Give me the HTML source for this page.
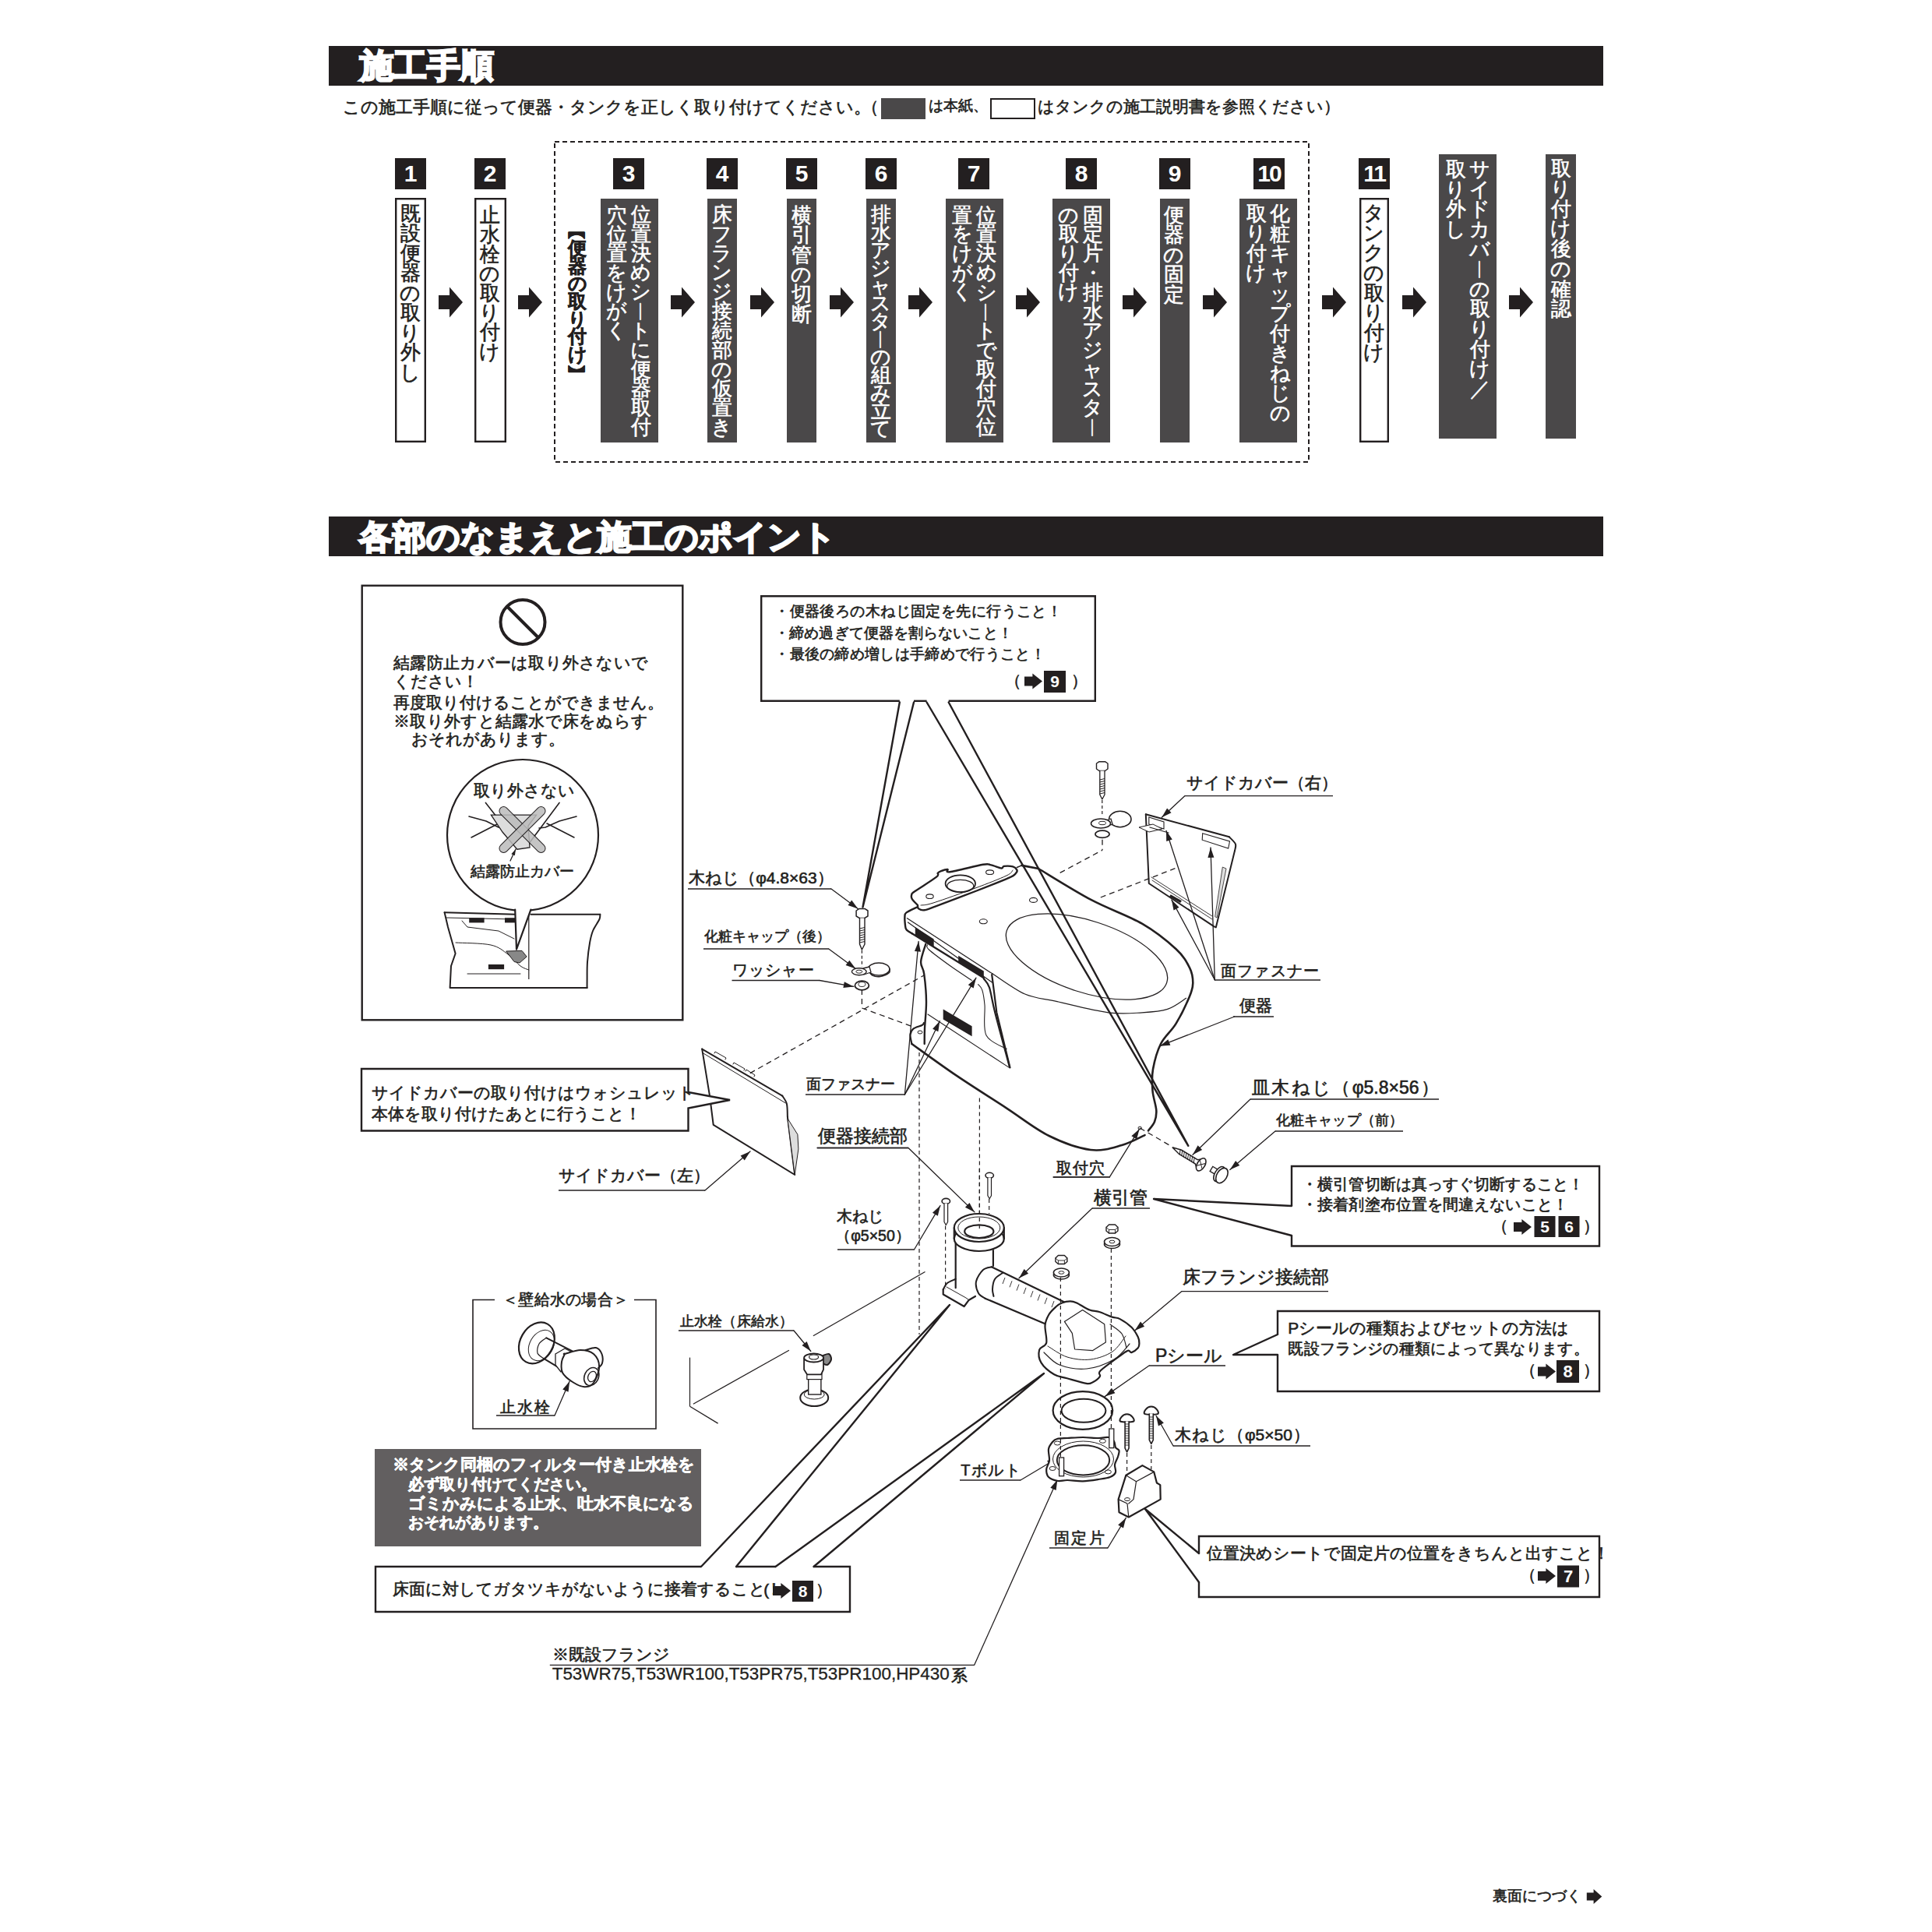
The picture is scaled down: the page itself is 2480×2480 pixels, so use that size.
<!DOCTYPE html><html><head><meta charset="utf-8"><title>施工手順</title><style>
html,body{margin:0;padding:0;background:#fff}
body{width:2480px;height:2480px;position:relative;overflow:hidden;font-family:"Liberation Sans",sans-serif;color:#231f20}
.t{position:absolute;white-space:nowrap;line-height:1;-webkit-text-stroke-width:0.6px}
.j{text-align:justify;text-align-last:justify}
.v{position:absolute;line-break:anywhere;word-break:break-all;text-align:center;-webkit-text-stroke-width:0.6px}
.hd{-webkit-text-stroke-width:2.4px}
.nb{position:absolute;color:#fff;font-weight:bold;text-align:center}
svg{position:absolute;left:0;top:0}
</style></head><body>
<svg width="2480" height="2480" viewBox="0 0 2480 2480">
<path d="M1154.8,901.5 L1107.5,1164.5 L1173.0,901.5" stroke="#231f20" stroke-width="2.4" fill="none" stroke-linejoin="round" stroke-linecap="round"/>
<path d="M1189.6,901.5 L1525.3,1470.8 L1217.7,901.5" stroke="#231f20" stroke-width="2.4" fill="none" stroke-linejoin="round" stroke-linecap="round"/>
<path d="M900.0,2011.0 L1219.0,1675.0 L945.0,2011.0" stroke="#231f20" stroke-width="2.4" fill="none" stroke-linejoin="round" stroke-linecap="round"/>
<path d="M995.5,2011.0 L1340.0,1763.0 L1044.5,2011.0" stroke="#231f20" stroke-width="2.4" fill="none" stroke-linejoin="round" stroke-linecap="round"/>
<path d="M1658.0,1548.0 L1481.0,1539.0 L1658.0,1586.0" stroke="#231f20" stroke-width="2.4" fill="none" stroke-linejoin="round" stroke-linecap="round"/>
<path d="M1640.0,1713.0 L1583.0,1739.0 L1640.0,1739.0" stroke="#231f20" stroke-width="2.4" fill="none" stroke-linejoin="round" stroke-linecap="round"/>
<path d="M1539.0,1994.0 L1470.0,1937.0 L1539.0,2031.0" stroke="#231f20" stroke-width="2.4" fill="none" stroke-linejoin="round" stroke-linecap="round"/>
<path d="M1250.7,2137.3 L1357.3,1899.5" stroke="#231f20" stroke-width="1.3" fill="none" stroke-linejoin="round" stroke-linecap="round"/>
<polygon points="1357.3,1899.5 1355.6323105448519,1912.998844835066 1348.3322359487324,1909.7263976023228" fill="#231f20" stroke="none" stroke-width="0" stroke-linejoin="miter"/>
<path d="M1333.0,1115.0 C1344.3,1121.7 1378.7,1143.4 1400.9,1155.2 C1423.1,1167.0 1447.9,1175.2 1466.0,1185.7 C1484.1,1196.2 1499.4,1208.9 1509.6,1218.3 C1519.8,1227.7 1523.4,1235.0 1527.0,1242.2 C1530.6,1249.4 1531.3,1255.6 1531.3,1261.7 C1531.3,1267.8 1530.6,1270.3 1527.0,1279.0 C1523.4,1287.7 1515.8,1303.7 1509.6,1313.9 C1503.4,1324.1 1494.9,1330.2 1490.0,1340.0 C1485.1,1349.8 1481.8,1362.6 1480.0,1372.6 C1478.2,1382.6 1478.8,1391.2 1479.5,1400.0 C1480.2,1408.8 1483.9,1418.6 1484.3,1425.3 C1484.7,1432.0 1483.7,1435.7 1482.0,1440.0 C1480.3,1444.3 1475.3,1449.5 1474.0,1451.4" stroke="#231f20" stroke-width="2.6" fill="none" stroke-linejoin="round" stroke-linecap="round"/>
<path d="M1469.5,1457.1 C1464.6,1459.2 1451.6,1466.8 1440.0,1470.0 C1428.4,1473.2 1415.6,1478.0 1400.0,1476.0 C1384.4,1474.0 1364.5,1466.9 1346.5,1458.0 C1328.5,1449.1 1312.1,1435.6 1292.2,1422.6 C1272.3,1409.6 1247.3,1394.0 1227.0,1380.2 C1206.7,1366.4 1179.8,1346.7 1170.4,1340.0" stroke="#231f20" stroke-width="2.6" fill="none" stroke-linejoin="round" stroke-linecap="round"/>
<path d="M1170.4,1340.0 C1170.1,1338.0 1168.1,1331.3 1168.5,1328.0 C1168.9,1324.7 1170.1,1322.4 1172.6,1320.4 C1175.1,1318.4 1181.3,1317.2 1183.5,1316.0 C1185.7,1314.8 1185.6,1313.5 1186.0,1313.0" stroke="#231f20" stroke-width="2.2" fill="none" stroke-linejoin="round" stroke-linecap="round"/>
<path d="M1178.0,1164.0 C1175.6,1165.2 1166.3,1169.2 1163.5,1171.4 C1160.7,1173.6 1161.7,1174.4 1161.4,1177.0 C1161.1,1179.6 1161.6,1184.3 1161.9,1187.0 C1162.2,1189.7 1162.0,1191.3 1163.5,1193.2 C1165.0,1195.1 1169.5,1197.5 1170.7,1198.3" stroke="#231f20" stroke-width="2.4" fill="none" stroke-linejoin="round" stroke-linecap="round"/>
<path d="M1170.7,1198.3 L1262.8,1255.3" stroke="#231f20" stroke-width="2.4" fill="none" stroke-linejoin="round" stroke-linecap="round"/>
<path d="M1164.5,1178.7 L1274.2,1250.1" stroke="#231f20" stroke-width="1.2" fill="none" stroke-linejoin="round" stroke-linecap="round"/>
<path d="M1165.5,1183.9 L1274.2,1261.5" stroke="#231f20" stroke-width="1.2" fill="none" stroke-linejoin="round" stroke-linecap="round"/>
<path d="M1274.2,1250.1 C1281.1,1254.4 1301.8,1270.1 1315.6,1276.0 C1329.4,1281.9 1339.2,1281.7 1357.0,1285.7 C1374.8,1289.7 1404.4,1297.5 1422.6,1299.8 C1440.8,1302.1 1453.3,1300.5 1466.0,1299.8 C1478.7,1299.1 1489.3,1298.5 1498.7,1295.4 C1508.1,1292.3 1518.6,1283.7 1522.6,1281.3" stroke="#231f20" stroke-width="1.2" fill="none" stroke-linejoin="round" stroke-linecap="round"/>
<path d="M1273.2,1251.0 L1279.4,1300.0 L1296.5,1370.4" stroke="#231f20" stroke-width="2.2" fill="none" stroke-linejoin="round" stroke-linecap="round"/>
<path d="M1188.3,1211.8 C1187.3,1215.6 1182.4,1228.2 1182.1,1234.6 C1181.8,1241.0 1185.0,1241.6 1186.2,1250.1 C1187.4,1258.6 1188.9,1274.0 1189.0,1285.7 C1189.1,1297.4 1187.4,1311.0 1187.0,1320.0 C1186.6,1329.0 1186.8,1336.7 1186.7,1340.0" stroke="#231f20" stroke-width="2.4" fill="none" stroke-linejoin="round" stroke-linecap="round"/>
<path d="M1190.4,1212.8 C1190.7,1213.8 1187.5,1214.5 1192.4,1219.0 C1197.3,1223.5 1210.8,1233.4 1220.0,1240.0 C1229.2,1246.6 1242.8,1255.3 1247.3,1258.4" stroke="#231f20" stroke-width="1.1" fill="none" stroke-linejoin="round" stroke-linecap="round"/>
<path d="M1262.8,1256.3 C1264.0,1258.2 1267.6,1260.4 1270.0,1267.7 C1272.4,1275.0 1273.0,1283.0 1277.3,1300.0 C1281.6,1317.0 1292.9,1358.3 1296.0,1370.0" stroke="#231f20" stroke-width="2.2" fill="none" stroke-linejoin="round" stroke-linecap="round"/>
<path d="M1255.6,1263.6 C1256.5,1264.8 1259.4,1266.4 1260.8,1270.8 C1262.2,1275.2 1263.1,1280.3 1264.0,1290.0 C1264.9,1299.7 1261.3,1319.6 1266.0,1329.0 C1270.7,1338.4 1287.8,1343.6 1292.2,1346.5" stroke="#231f20" stroke-width="1.1" fill="none" stroke-linejoin="round" stroke-linecap="round"/>
<path d="M1191.0,1302.0 L1295.4,1370.4" stroke="#231f20" stroke-width="1.1" fill="none" stroke-linejoin="round" stroke-linecap="round"/>
<ellipse cx="1181" cy="1325" rx="3" ry="2" fill="none" stroke="#231f20" stroke-width="1"/>
<polygon points="1174.8,1190 1198.7,1205.6 1198.7,1215.4 1174.8,1199.9" fill="#231f20" stroke="none" stroke-width="0" stroke-linejoin="miter"/>
<polygon points="1230.2,1226.8 1262.8,1246.5 1262.8,1255.3 1230.2,1235.1" fill="#231f20" stroke="none" stroke-width="0" stroke-linejoin="miter"/>
<polygon points="1210.7,1295.4 1247.6,1317.2 1247.6,1330.2 1210.7,1308.5" fill="#231f20" stroke="none" stroke-width="0" stroke-linejoin="miter"/>
<path d="M1178.0,1162.0 C1176.8,1160.6 1172.0,1156.0 1170.7,1153.8 C1169.4,1151.6 1169.7,1150.2 1170.2,1148.7 C1170.7,1147.2 1168.5,1148.3 1173.8,1144.5 C1179.1,1140.7 1196.8,1129.9 1201.8,1125.9 C1206.8,1121.9 1202.8,1122.0 1203.8,1120.7 C1204.8,1119.4 1205.9,1118.9 1208.0,1118.1 C1210.1,1117.3 1214.4,1115.8 1216.3,1116.0 C1218.2,1116.2 1211.8,1120.2 1219.4,1119.2 C1227.0,1118.2 1253.0,1111.3 1261.8,1109.8 C1270.6,1108.3 1268.2,1109.6 1272.2,1110.4 C1276.2,1111.2 1282.8,1114.2 1285.6,1114.5 C1288.3,1114.8 1286.3,1112.2 1288.7,1111.9 C1291.1,1111.6 1297.3,1111.6 1300.1,1112.4 C1302.9,1113.2 1304.6,1115.2 1305.3,1116.6 C1306.0,1118.0 1305.9,1119.0 1304.2,1120.7 C1302.5,1122.4 1303.4,1123.1 1294.9,1126.9 C1286.5,1130.7 1269.0,1137.5 1253.5,1143.5 C1238.0,1149.5 1213.0,1159.0 1201.8,1163.1 C1190.6,1167.2 1190.0,1167.8 1186.2,1168.3 C1182.4,1168.8 1180.4,1167.3 1179.0,1166.3 C1177.6,1165.2 1178.2,1162.7 1178.0,1162.0" stroke="#231f20" stroke-width="2.4" fill="none" stroke-linejoin="round" stroke-linecap="round"/>
<path d="M1182.0,1162.0 C1184.7,1161.5 1186.3,1162.7 1198.0,1159.0 C1209.7,1155.3 1236.3,1145.8 1252.0,1140.0 C1267.7,1134.2 1284.0,1127.8 1292.0,1124.0 C1300.0,1120.2 1298.7,1118.2 1300.0,1117.0" stroke="#231f20" stroke-width="1" fill="none" stroke-linejoin="round" stroke-linecap="round"/>
<path d="M1305.3,1113.5 L1311.5,1110.9" stroke="#231f20" stroke-width="1.5" fill="none" stroke-linejoin="round" stroke-linecap="round"/>
<path d="M1311.5,1110.9 L1333.0,1115.0" stroke="#231f20" stroke-width="2.6" fill="none" stroke-linejoin="round" stroke-linecap="round"/>
<ellipse cx="1232.8" cy="1134.2" rx="19.2" ry="10.9" fill="none" stroke="#231f20" stroke-width="1.8"/>
<ellipse cx="1232.8" cy="1137.3" rx="17" ry="8" fill="none" stroke="#231f20" stroke-width="1.2"/>
<ellipse cx="1270.6" cy="1119.7" rx="5" ry="2.8" fill="none" stroke="#231f20" stroke-width="1.1"/>
<ellipse cx="1193.5" cy="1150.7" rx="4.7" ry="2.8" fill="none" stroke="#231f20" stroke-width="1.1"/>
<ellipse cx="1326.5" cy="1155.4" rx="5" ry="3" fill="none" stroke="#231f20" stroke-width="1.1"/>
<ellipse cx="1262.3" cy="1182.8" rx="5" ry="3" fill="none" stroke="#231f20" stroke-width="1.1"/>
<ellipse cx="1395" cy="1228" rx="108" ry="46" fill="none" stroke="#231f20" stroke-width="1.3" transform="rotate(18 1395 1228)"/>
<line x1="1106.4" y1="1270" x2="1106.4" y2="1294" stroke="#231f20" stroke-width="1.3" stroke-dasharray="7,5"/>
<line x1="1106.4" y1="1294" x2="1172" y2="1318" stroke="#231f20" stroke-width="1.3" stroke-dasharray="7,5"/>
<line x1="1180" y1="1351" x2="1180" y2="1713" stroke="#231f20" stroke-width="1.2" stroke-dasharray="5,4"/>
<line x1="1257.4" y1="1409.6" x2="1257.4" y2="1583" stroke="#231f20" stroke-width="1.2" stroke-dasharray="5,4"/>
<line x1="1360.7" y1="1120.4" x2="1415" y2="1091.3" stroke="#231f20" stroke-width="1.3" stroke-dasharray="7,5"/>
<line x1="1415" y1="1077.7" x2="1415" y2="1091.3" stroke="#231f20" stroke-width="1.3" stroke-dasharray="7,5"/>
<line x1="1412.8" y1="1152" x2="1508.4" y2="1114.7" stroke="#231f20" stroke-width="1.3" stroke-dasharray="7,5"/>
<line x1="962.8" y1="1377.6" x2="1186" y2="1252" stroke="#231f20" stroke-width="1.3" stroke-dasharray="7,5"/>
<line x1="1463.2" y1="1448" x2="1502.5" y2="1470.8" stroke="#231f20" stroke-width="1.3" stroke-dasharray="7,5"/>
<ellipse cx="1463.2" cy="1448" rx="2.2" ry="1.8" fill="none" stroke="#231f20" stroke-width="1"/>
<path d="M1161.4,1405.0 L1179.1,1208.5" stroke="#231f20" stroke-width="1.3" fill="none" stroke-linejoin="round" stroke-linecap="round"/>
<polygon points="1179.1,1208.5 1181.9176000802463,1221.806431895433 1173.9498588927172,1221.088726964037" fill="#231f20" stroke="none" stroke-width="0" stroke-linejoin="miter"/>
<path d="M1161.4,1405.0 L1206.3,1310.7" stroke="#231f20" stroke-width="1.3" fill="none" stroke-linejoin="round" stroke-linecap="round"/>
<polygon points="1206.3,1310.7 1204.322859474202,1324.1570024649343 1197.0998337470257,1320.7178311483892" fill="#231f20" stroke="none" stroke-width="0" stroke-linejoin="miter"/>
<path d="M1161.4,1405.0 L1253.0,1255.2" stroke="#231f20" stroke-width="1.3" fill="none" stroke-linejoin="round" stroke-linecap="round"/>
<polygon points="1253,1255.2 1249.6307194338824,1268.3775547225873 1242.805591255324,1264.2041118577276" fill="#231f20" stroke="none" stroke-width="0" stroke-linejoin="miter"/>
<path d="M1067.0,1141.0 L1101.3,1166.4" stroke="#231f20" stroke-width="1.3" fill="none" stroke-linejoin="round" stroke-linecap="round"/>
<polygon points="1101.3,1166.4 1088.4722155281543,1161.8780595377789 1093.233139372317,1155.448937968693" fill="#231f20" stroke="none" stroke-width="0" stroke-linejoin="miter"/>
<path d="M1063.7,1218.0 L1098.4,1243.6" stroke="#231f20" stroke-width="1.3" fill="none" stroke-linejoin="round" stroke-linecap="round"/>
<polygon points="1098.4,1243.6 1085.5641281427709,1239.1010674971951 1090.3135166818145,1232.6634197509136" fill="#231f20" stroke="none" stroke-width="0" stroke-linejoin="miter"/>
<path d="M1052.0,1258.5 L1095.9,1266.4" stroke="#231f20" stroke-width="1.3" fill="none" stroke-linejoin="round" stroke-linecap="round"/>
<polygon points="1095.9,1266.4 1082.3970769032073,1268.0343401855491 1083.8139534426684,1260.160811061203" fill="#231f20" stroke="none" stroke-width="0" stroke-linejoin="miter"/>
<path d="M1584.5,1305.0 L1488.8,1342.7" stroke="#231f20" stroke-width="1.3" fill="none" stroke-linejoin="round" stroke-linecap="round"/>
<polygon points="1488.8,1342.7 1499.429211033092,1334.2135476897595 1502.3614071801521,1341.656814832296" fill="#231f20" stroke="none" stroke-width="0" stroke-linejoin="miter"/>
<path d="M1605.0,1411.0 L1531.0,1482.2" stroke="#231f20" stroke-width="1.3" fill="none" stroke-linejoin="round" stroke-linecap="round"/>
<polygon points="1531,1482.2 1537.5945413673344,1470.3041173444542 1543.1412790561021,1476.0689851670502" fill="#231f20" stroke="none" stroke-width="0" stroke-linejoin="miter"/>
<path d="M1637.0,1452.0 L1578.8,1501.5" stroke="#231f20" stroke-width="1.3" fill="none" stroke-linejoin="round" stroke-linecap="round"/>
<polygon points="1578.8,1501.5 1586.111186401754,1490.0306254137897 1591.2941971699147,1496.124589589688" fill="#231f20" stroke="none" stroke-width="0" stroke-linejoin="miter"/>
<path d="M1352.0,1511.0 L1424.5,1510.7 L1462.6,1449.2" stroke="#231f20" stroke-width="1.3" fill="none" stroke-linejoin="round" stroke-linecap="round"/>
<polygon points="1462.6,1449.2 1459.154032098823,1462.357708965624 1452.3533252902437,1458.14458816226" fill="#231f20" stroke="none" stroke-width="0" stroke-linejoin="miter"/>
<path d="M1521.0,1021.6 L1491.3,1049.2" stroke="#231f20" stroke-width="1.3" fill="none" stroke-linejoin="round" stroke-linecap="round"/>
<polygon points="1491.3,1049.2 1498.09994927599,1037.4203272607444 1503.5458281303193,1043.2805664626856" fill="#231f20" stroke="none" stroke-width="0" stroke-linejoin="miter"/>
<path d="M1559.3,1257.8 L1497.0,1066.3" stroke="#231f20" stroke-width="1.3" fill="none" stroke-linejoin="round" stroke-linecap="round"/>
<polygon points="1497,1066.3 1504.8255391807957,1077.424789280244 1497.2179968081964,1079.899723430703" fill="#231f20" stroke="none" stroke-width="0" stroke-linejoin="miter"/>
<path d="M1559.3,1257.8 L1554.0,1088.0" stroke="#231f20" stroke-width="1.3" fill="none" stroke-linejoin="round" stroke-linecap="round"/>
<polygon points="1554,1088 1558.403626871964,1100.8688799191118 1550.4075210801236,1101.1184639043695" fill="#231f20" stroke="none" stroke-width="0" stroke-linejoin="miter"/>
<path d="M1559.3,1257.8 L1503.9,1155.1" stroke="#231f20" stroke-width="1.3" fill="none" stroke-linejoin="round" stroke-linecap="round"/>
<polygon points="1503.9,1155.1 1513.5923850063693,1164.6424144160849 1506.551480036225,1168.4405267368832" fill="#231f20" stroke="none" stroke-width="0" stroke-linejoin="miter"/>
<path d="M905.0,1528.0 L963.0,1478.0" stroke="#231f20" stroke-width="1.3" fill="none" stroke-linejoin="round" stroke-linecap="round"/>
<polygon points="963,1478 955.7654289874703,1489.5178549333052 950.5419120109146,1483.4585752405007" fill="#231f20" stroke="none" stroke-width="0" stroke-linejoin="miter"/>
<path d="M1049.0,1473.5 L1166.0,1473.5 L1251.0,1555.9" stroke="#231f20" stroke-width="1.3" fill="none" stroke-linejoin="round" stroke-linecap="round"/>
<polygon points="1251,1555.9 1238.8818033996313,1549.723487136352 1244.450125718719,1543.9794653266135" fill="#231f20" stroke="none" stroke-width="0" stroke-linejoin="miter"/>
<path d="M1173.5,1604.0 L1207.0,1547.6" stroke="#231f20" stroke-width="1.3" fill="none" stroke-linejoin="round" stroke-linecap="round"/>
<polygon points="1207,1547.6 1203.8002491115296,1560.8197425940043 1196.9220804556087,1556.7343055377391" fill="#231f20" stroke="none" stroke-width="0" stroke-linejoin="miter"/>
<path d="M1402.0,1551.0 L1308.0,1640.8" stroke="#231f20" stroke-width="1.3" fill="none" stroke-linejoin="round" stroke-linecap="round"/>
<polygon points="1308,1640.8 1314.6369152225902,1628.9277063577356 1320.1630625289285,1634.7123148966643" fill="#231f20" stroke="none" stroke-width="0" stroke-linejoin="miter"/>
<path d="M1517.0,1657.6 L1456.6,1708.0" stroke="#231f20" stroke-width="1.3" fill="none" stroke-linejoin="round" stroke-linecap="round"/>
<polygon points="1456.6,1708 1464.0187186602868,1696.5998853760364 1469.144193923871,1702.7423200173155" fill="#231f20" stroke="none" stroke-width="0" stroke-linejoin="miter"/>
<path d="M1475.0,1753.0 L1418.5,1792.4" stroke="#231f20" stroke-width="1.3" fill="none" stroke-linejoin="round" stroke-linecap="round"/>
<polygon points="1418.5,1792.4 1426.8752982022847,1781.6829864223841 1431.451297497414,1788.2450158684455" fill="#231f20" stroke="none" stroke-width="0" stroke-linejoin="miter"/>
<path d="M1310.0,1900.0 L1357.3,1871.8" stroke="#231f20" stroke-width="1.3" fill="none" stroke-linejoin="round" stroke-linecap="round"/>
<polygon points="1357.3,1871.8 1348.1822502450823,1881.8929004456943 1344.085527789975,1875.0214475334044" fill="#231f20" stroke="none" stroke-width="0" stroke-linejoin="miter"/>
<path d="M1422.0,1987.0 L1445.3,1948.4" stroke="#231f20" stroke-width="1.3" fill="none" stroke-linejoin="round" stroke-linecap="round"/>
<polygon points="1445.3,1948.4 1442.0063777595294,1961.5966682362284 1435.1574178412986,1957.4624514980217" fill="#231f20" stroke="none" stroke-width="0" stroke-linejoin="miter"/>
<path d="M1506.0,1856.0 L1484.0,1817.3" stroke="#231f20" stroke-width="1.3" fill="none" stroke-linejoin="round" stroke-linecap="round"/>
<polygon points="1484,1817.3 1493.9020183524383,1826.6247001317993 1486.947243211978,1830.5783190746965" fill="#231f20" stroke="none" stroke-width="0" stroke-linejoin="miter"/>
<path d="M1019.0,1708.0 L1040.8,1734.5" stroke="#231f20" stroke-width="1.3" fill="none" stroke-linejoin="round" stroke-linecap="round"/>
<polygon points="1040.8,1734.5 1029.452052094591,1727.0017283100622 1035.6301850066268,1721.9193397258216" fill="#231f20" stroke="none" stroke-width="0" stroke-linejoin="miter"/>
<path d="M712.0,1817.0 L731.1,1773.2" stroke="#231f20" stroke-width="1.3" fill="none" stroke-linejoin="round" stroke-linecap="round"/>
<polygon points="731.1,1773.2 729.5701789099337,1786.7151636110107 722.237083014458,1783.517398049285" fill="#231f20" stroke="none" stroke-width="0" stroke-linejoin="miter"/>
<path d="M1099.1,1169.0 L1103.0,1166.4 L1110.0,1166.4 L1114.0,1169.0 L1114.0,1176.0 L1110.0,1178.4 L1103.0,1178.4 L1099.1,1176.0 L1099.1,1169.0" stroke="#231f20" stroke-width="1.5" fill="#fff" stroke-linejoin="round" stroke-linecap="round"/>
<path d="M1103.5,1178.4 L1103.5,1212.0 L1106.4,1219.0 L1110.0,1212.0 L1110.0,1178.4" stroke="#231f20" stroke-width="1.4" fill="#fff" stroke-linejoin="round" stroke-linecap="round"/>
<line x1="1103.5" y1="1192" x2="1110" y2="1190.5" stroke="#231f20" stroke-width="1"/>
<line x1="1103.5" y1="1195" x2="1110" y2="1193.5" stroke="#231f20" stroke-width="1"/>
<line x1="1103.5" y1="1198" x2="1110" y2="1196.5" stroke="#231f20" stroke-width="1"/>
<line x1="1103.5" y1="1201" x2="1110" y2="1199.5" stroke="#231f20" stroke-width="1"/>
<line x1="1103.5" y1="1204" x2="1110" y2="1202.5" stroke="#231f20" stroke-width="1"/>
<line x1="1103.5" y1="1207" x2="1110" y2="1205.5" stroke="#231f20" stroke-width="1"/>
<line x1="1103.5" y1="1210" x2="1110" y2="1208.5" stroke="#231f20" stroke-width="1"/>
<line x1="1106.4" y1="1219.7" x2="1106.4" y2="1241" stroke="#231f20" stroke-width="1.2" stroke-dasharray="4,3"/>
<ellipse cx="1128.1" cy="1244" rx="13.8" ry="8" fill="#fff" stroke="#231f20" stroke-width="1.6"/>
<path d="M1114.3,1245.0 C1115.2,1246.2 1117.4,1250.6 1120.0,1252.0 C1122.6,1253.4 1126.5,1254.0 1130.0,1253.5 C1133.5,1253.0 1139.0,1250.6 1141.0,1249.0 C1143.0,1247.4 1141.8,1244.8 1142.0,1244.0" stroke="#231f20" stroke-width="1.6" fill="none" stroke-linejoin="round" stroke-linecap="round"/>
<path d="M1108.0,1243.0 L1116.0,1241.0 L1118.0,1248.0 L1109.0,1251.0" stroke="#231f20" stroke-width="1.3" fill="#fff" stroke-linejoin="round" stroke-linecap="round"/>
<ellipse cx="1102.8" cy="1247.2" rx="9.4" ry="4.5" fill="#fff" stroke="#231f20" stroke-width="1.4"/>
<ellipse cx="1102.8" cy="1247.2" rx="4" ry="2" fill="none" stroke="#231f20" stroke-width="1"/>
<ellipse cx="1106.4" cy="1265" rx="9" ry="5.8" fill="#fff" stroke="#231f20" stroke-width="1.8"/>
<ellipse cx="1106.4" cy="1263.5" rx="4.5" ry="3" fill="none" stroke="#231f20" stroke-width="1"/>
<path d="M1407.5,980.0 L1411.0,977.7 L1418.5,977.7 L1422.0,980.0 L1422.0,987.0 L1418.5,989.5 L1411.0,989.5 L1407.5,987.0 L1407.5,980.0" stroke="#231f20" stroke-width="1.4" fill="#fff" stroke-linejoin="round" stroke-linecap="round"/>
<path d="M1411.8,989.5 L1411.8,1020.0 L1414.8,1026.0 L1418.0,1020.0 L1418.0,989.5" stroke="#231f20" stroke-width="1.3" fill="#fff" stroke-linejoin="round" stroke-linecap="round"/>
<line x1="1411.8" y1="1001" x2="1418" y2="999.5" stroke="#231f20" stroke-width="1"/>
<line x1="1411.8" y1="1004" x2="1418" y2="1002.5" stroke="#231f20" stroke-width="1"/>
<line x1="1411.8" y1="1007" x2="1418" y2="1005.5" stroke="#231f20" stroke-width="1"/>
<line x1="1411.8" y1="1010" x2="1418" y2="1008.5" stroke="#231f20" stroke-width="1"/>
<line x1="1411.8" y1="1013" x2="1418" y2="1011.5" stroke="#231f20" stroke-width="1"/>
<line x1="1411.8" y1="1016" x2="1418" y2="1014.5" stroke="#231f20" stroke-width="1"/>
<line x1="1411.8" y1="1019" x2="1418" y2="1017.5" stroke="#231f20" stroke-width="1"/>
<line x1="1414.8" y1="1027" x2="1414.8" y2="1048" stroke="#231f20" stroke-width="1.2" stroke-dasharray="4,3"/>
<ellipse cx="1437.8" cy="1051.5" rx="14.2" ry="10.2" fill="#fff" stroke="#231f20" stroke-width="1.6"/>
<path d="M1420.0,1053.0 L1426.0,1051.0 L1428.0,1058.0 L1421.0,1060.0" stroke="#231f20" stroke-width="1.3" fill="#fff" stroke-linejoin="round" stroke-linecap="round"/>
<ellipse cx="1413" cy="1057" rx="12.5" ry="6" fill="#fff" stroke="#231f20" stroke-width="1.5"/>
<ellipse cx="1415" cy="1056.5" rx="4.5" ry="2.2" fill="none" stroke="#231f20" stroke-width="1"/>
<ellipse cx="1415" cy="1070.8" rx="9.1" ry="4.6" fill="#fff" stroke="#231f20" stroke-width="1.8"/>
<path d="M1470.8,1045.2 L1577.9,1074.3" stroke="#231f20" stroke-width="2" fill="none" stroke-linejoin="round" stroke-linecap="round"/>
<path d="M1577.9,1074.3 C1579.2,1075.8 1584.7,1080.5 1585.9,1083.4 C1587.1,1086.4 1585.2,1090.6 1585.0,1092.0" stroke="#231f20" stroke-width="2" fill="none" stroke-linejoin="round" stroke-linecap="round"/>
<path d="M1585.0,1092.0 L1560.8,1190.4 L1558.5,1189.3 L1474.8,1134.0 L1470.8,1045.2" stroke="#231f20" stroke-width="2" fill="none" stroke-linejoin="round" stroke-linecap="round"/>
<polygon points="1474.8,1049 1494,1055 1494,1064 1474.8,1058" fill="none" stroke="#231f20" stroke-width="1.1" stroke-linejoin="miter"/>
<polygon points="1543.7,1069.7 1578.5,1080 1576.7,1089 1543.2,1078.2" fill="none" stroke="#231f20" stroke-width="1.1" stroke-linejoin="miter"/>
<polygon points="1569.3,1113 1574,1115 1562,1178 1559.7,1176.7" fill="#ddd" stroke="#231f20" stroke-width="0.8" stroke-linejoin="miter"/>
<polygon points="1462,1062 1480,1058 1492,1064 1475,1068" fill="#fff" stroke="#231f20" stroke-width="1" stroke-linejoin="miter"/>
<path d="M1476.0,1062.0 L1500.0,1069.0" stroke="#231f20" stroke-width="1.3" fill="none" stroke-linejoin="round" stroke-linecap="round"/>
<polygon points="1502.7,1148.3 1517,1156.2 1515,1159 1501,1151" fill="#231f20" stroke="none" stroke-width="1" stroke-linejoin="miter"/>
<path d="M1479.0,1130.0 L1556.0,1180.0" stroke="#231f20" stroke-width="0.9" fill="none" stroke-linejoin="round" stroke-linecap="round"/>
<path d="M1478.0,1126.0 L1556.0,1176.0" stroke="#231f20" stroke-width="0.9" fill="none" stroke-linejoin="round" stroke-linecap="round"/>
<path d="M901.2,1346.6 L1004.2,1406.6" stroke="#231f20" stroke-width="2" fill="none" stroke-linejoin="round" stroke-linecap="round"/>
<path d="M1004.2,1406.6 C1005.2,1408.3 1008.8,1412.4 1009.9,1416.9 C1011.0,1421.4 1010.7,1430.7 1010.9,1433.5" stroke="#231f20" stroke-width="2" fill="none" stroke-linejoin="round" stroke-linecap="round"/>
<path d="M1010.9,1433.5 L1020.2,1508.0 L915.7,1443.8 L911.0,1406.6 L901.2,1346.6" stroke="#231f20" stroke-width="2" fill="none" stroke-linejoin="round" stroke-linecap="round"/>
<path d="M903.3,1352.3 L1008.3,1415.9" stroke="#231f20" stroke-width="1" fill="none" stroke-linejoin="round" stroke-linecap="round"/>
<polygon points="1010.9,1435.6 1023.9,1456.3 1024.9,1474.9 1020.2,1508" fill="#ddd" stroke="#231f20" stroke-width="1" stroke-linejoin="miter"/>
<path d="M917.0,1352.0 L918.0,1350.0 L932.0,1358.0 L931.0,1360.0" stroke="#231f20" stroke-width="1" fill="none" stroke-linejoin="round" stroke-linecap="round"/>
<path d="M941.0,1366.0 L942.0,1364.0 L956.0,1372.0 L955.0,1374.0" stroke="#231f20" stroke-width="1" fill="none" stroke-linejoin="round" stroke-linecap="round"/>
<path d="M957.0,1375.0 L958.0,1373.0 L969.0,1380.0 L968.0,1382.0" stroke="#231f20" stroke-width="1" fill="none" stroke-linejoin="round" stroke-linecap="round"/>
<path d="M1210.7,1655.3 C1211.6,1653.9 1213.2,1649.2 1215.9,1647.0 C1218.6,1644.8 1224.9,1642.7 1226.7,1641.8" stroke="#231f20" stroke-width="2" fill="none" stroke-linejoin="round" stroke-linecap="round"/>
<path d="M1210.7,1655.3 L1210.7,1661.5 L1237.6,1677.0 L1243.8,1668.7 L1252.0,1664.0" stroke="#231f20" stroke-width="2.2" fill="none" stroke-linejoin="round" stroke-linecap="round"/>
<path d="M1215.0,1652.0 L1240.0,1666.0 L1243.8,1668.7" stroke="#231f20" stroke-width="1" fill="none" stroke-linejoin="round" stroke-linecap="round"/>
<path d="M1226.7,1596.3 L1226.7,1653.2" stroke="#231f20" stroke-width="2.2" fill="none" stroke-linejoin="round" stroke-linecap="round"/>
<path d="M1274.9,1605.0 L1274.9,1625.0" stroke="#231f20" stroke-width="2.2" fill="none" stroke-linejoin="round" stroke-linecap="round"/>
<ellipse cx="1256.8" cy="1590" rx="32" ry="16" fill="#fff" stroke="#231f20" stroke-width="2.2"/>
<path d="M1224.8,1576.0 L1224.8,1590.0" stroke="#231f20" stroke-width="2.2" fill="none" stroke-linejoin="round" stroke-linecap="round"/>
<path d="M1288.8,1576.0 L1288.8,1590.0" stroke="#231f20" stroke-width="2.2" fill="none" stroke-linejoin="round" stroke-linecap="round"/>
<ellipse cx="1256.8" cy="1576" rx="32" ry="18" fill="#fff" stroke="#231f20" stroke-width="2.2"/>
<ellipse cx="1256.8" cy="1576" rx="27" ry="14" fill="none" stroke="#231f20" stroke-width="1"/>
<ellipse cx="1256.8" cy="1580.7" rx="18.6" ry="8.3" fill="#fff" stroke="#231f20" stroke-width="2.2"/>
<line x1="1257.3" y1="1500" x2="1257.3" y2="1578.7" stroke="#231f20" stroke-width="1.2" stroke-dasharray="5,4"/>
<path d="M1272.8,1626.3 L1366.4,1671.5" stroke="#231f20" stroke-width="2.2" fill="none" stroke-linejoin="round" stroke-linecap="round"/>
<path d="M1264.5,1666.7 L1343.2,1700.0 L1352.0,1704.0" stroke="#231f20" stroke-width="2.2" fill="none" stroke-linejoin="round" stroke-linecap="round"/>
<path d="M1272.8,1626.3 C1271.0,1626.9 1265.3,1626.9 1262.0,1630.0 C1258.7,1633.1 1254.0,1640.0 1253.0,1645.0 C1252.0,1650.0 1254.1,1656.4 1256.0,1660.0 C1257.9,1663.6 1263.1,1665.6 1264.5,1666.7" stroke="#231f20" stroke-width="2" fill="none" stroke-linejoin="round" stroke-linecap="round"/>
<path d="M1287.0,1634.0 C1285.3,1635.3 1279.2,1638.5 1277.0,1642.0 C1274.8,1645.5 1274.2,1651.3 1274.0,1655.0 C1273.8,1658.7 1275.2,1662.5 1275.5,1664.0" stroke="#231f20" stroke-width="2" fill="none" stroke-linejoin="round" stroke-linecap="round"/>
<line x1="1290" y1="1640.0" x2="1287" y2="1648.0" stroke="#231f20" stroke-width="0.9"/>
<line x1="1299" y1="1644.3" x2="1296" y2="1652.3" stroke="#231f20" stroke-width="0.9"/>
<line x1="1308" y1="1648.6" x2="1305" y2="1656.6" stroke="#231f20" stroke-width="0.9"/>
<line x1="1317" y1="1652.9" x2="1314" y2="1660.9" stroke="#231f20" stroke-width="0.9"/>
<line x1="1326" y1="1657.2" x2="1323" y2="1665.2" stroke="#231f20" stroke-width="0.9"/>
<line x1="1335" y1="1661.5" x2="1332" y2="1669.5" stroke="#231f20" stroke-width="0.9"/>
<line x1="1344" y1="1665.8" x2="1341" y2="1673.8" stroke="#231f20" stroke-width="0.9"/>
<line x1="1353" y1="1670.1" x2="1350" y2="1678.1" stroke="#231f20" stroke-width="0.9"/>
<line x1="1362" y1="1674.4" x2="1359" y2="1682.4" stroke="#231f20" stroke-width="0.9"/>
<ellipse cx="1214.3" cy="1541.9" rx="5.2" ry="3.5" fill="#fff" stroke="#231f20" stroke-width="1.6"/>
<path d="M1212.0,1544.9 L1212.0,1568.5 L1214.3,1572.5 L1216.6,1568.5 L1216.6,1544.9" stroke="#231f20" stroke-width="1.2" fill="#fff" stroke-linejoin="round" stroke-linecap="round"/>
<ellipse cx="1270.2" cy="1508.8" rx="5.2" ry="3.5" fill="#fff" stroke="#231f20" stroke-width="1.6"/>
<path d="M1267.9,1511.8 L1267.9,1534.8 L1270.2,1538.8 L1272.5,1534.8 L1272.5,1511.8" stroke="#231f20" stroke-width="1.2" fill="#fff" stroke-linejoin="round" stroke-linecap="round"/>
<line x1="1213.6" y1="1573.5" x2="1213.6" y2="1655" stroke="#231f20" stroke-width="1.2" stroke-dasharray="5,4"/>
<line x1="1269.7" y1="1539" x2="1269.7" y2="1558" stroke="#231f20" stroke-width="1.2" stroke-dasharray="5,4"/>
<path d="M1354.9,1615.0 L1358.4,1611.5 L1366.4,1611.5 L1369.9,1615.0 L1369.9,1619.5 L1366.4,1622.5 L1358.4,1622.5 L1354.9,1619.5 L1354.9,1615.0" stroke="#231f20" stroke-width="1.4" fill="#fff" stroke-linejoin="round" stroke-linecap="round"/>
<path d="M1354.9,1615.0 L1358.4,1618.0 L1366.4,1618.0 L1369.9,1615.0" stroke="#231f20" stroke-width="0.9" fill="none" stroke-linejoin="round" stroke-linecap="round"/>
<path d="M1358.4,1618.0 L1358.4,1622.5" stroke="#231f20" stroke-width="0.9" fill="none" stroke-linejoin="round" stroke-linecap="round"/>
<path d="M1366.4,1618.0 L1366.4,1622.5" stroke="#231f20" stroke-width="0.9" fill="none" stroke-linejoin="round" stroke-linecap="round"/>
<ellipse cx="1362.4" cy="1636.5" rx="10" ry="5.5" fill="#fff" stroke="#231f20" stroke-width="1.6"/>
<ellipse cx="1362.4" cy="1633.5" rx="10" ry="5.5" fill="#fff" stroke="#231f20" stroke-width="1.6"/>
<ellipse cx="1362.4" cy="1633.5" rx="3.5" ry="1.8" fill="none" stroke="#231f20" stroke-width="1"/>
<path d="M1420.0,1575.5 L1423.5,1572.0 L1431.5,1572.0 L1435.0,1575.5 L1435.0,1580.0 L1431.5,1583.0 L1423.5,1583.0 L1420.0,1580.0 L1420.0,1575.5" stroke="#231f20" stroke-width="1.4" fill="#fff" stroke-linejoin="round" stroke-linecap="round"/>
<path d="M1420.0,1575.5 L1423.5,1578.5 L1431.5,1578.5 L1435.0,1575.5" stroke="#231f20" stroke-width="0.9" fill="none" stroke-linejoin="round" stroke-linecap="round"/>
<path d="M1423.5,1578.5 L1423.5,1583.0" stroke="#231f20" stroke-width="0.9" fill="none" stroke-linejoin="round" stroke-linecap="round"/>
<path d="M1431.5,1578.5 L1431.5,1583.0" stroke="#231f20" stroke-width="0.9" fill="none" stroke-linejoin="round" stroke-linecap="round"/>
<ellipse cx="1427.5" cy="1597.0" rx="10" ry="5.5" fill="#fff" stroke="#231f20" stroke-width="1.6"/>
<ellipse cx="1427.5" cy="1594.0" rx="10" ry="5.5" fill="#fff" stroke="#231f20" stroke-width="1.6"/>
<ellipse cx="1427.5" cy="1594.0" rx="3.5" ry="1.8" fill="none" stroke="#231f20" stroke-width="1"/>
<path d="M1363.1,1672.4 C1366.1,1671.2 1370.6,1670.3 1373.8,1670.3 C1377.0,1670.3 1377.9,1670.5 1382.1,1672.4 C1386.2,1674.3 1393.9,1679.6 1398.7,1681.5 C1403.5,1683.4 1406.3,1682.5 1411.1,1684.0 C1415.9,1685.5 1423.3,1689.1 1427.7,1690.6 C1432.1,1692.1 1433.5,1690.9 1437.6,1693.1 C1441.7,1695.3 1448.6,1699.9 1452.5,1703.8 C1456.4,1707.7 1459.1,1712.8 1460.8,1716.3 C1462.5,1719.8 1462.4,1722.2 1462.4,1724.5 C1462.4,1726.8 1462.5,1728.4 1460.8,1730.3 C1459.1,1732.2 1454.6,1735.5 1452.5,1736.1 C1450.4,1736.6 1450.5,1733.2 1448.4,1733.6 C1446.3,1734.0 1446.0,1734.3 1440.1,1738.6 C1434.2,1742.9 1417.5,1754.6 1412.8,1759.3 C1408.1,1764.0 1413.6,1764.3 1411.9,1766.8 C1410.2,1769.3 1405.7,1772.7 1402.8,1774.2 C1399.9,1775.7 1400.0,1776.7 1394.5,1775.9 C1389.0,1775.1 1376.6,1771.2 1369.7,1769.3 C1362.8,1767.4 1358.6,1767.6 1353.1,1764.3 C1347.6,1761.0 1339.8,1754.7 1336.6,1749.4 C1333.4,1744.2 1333.0,1737.1 1334.1,1732.8 C1335.2,1728.5 1342.0,1729.0 1343.2,1723.7 C1344.4,1718.5 1341.0,1707.4 1341.5,1701.3 C1342.0,1695.2 1344.2,1691.3 1346.5,1687.3 C1348.8,1683.3 1352.8,1679.8 1355.6,1677.3 C1358.4,1674.8 1360.1,1673.6 1363.1,1672.4 Z" stroke="#231f20" stroke-width="2.2" fill="#fff" stroke-linejoin="round" stroke-linecap="round"/>
<path d="M1366.4,1696.4 L1389.6,1681.5 L1417.7,1699.7 L1419.4,1722.9 L1402.8,1733.6 L1379.6,1732.0 L1376.3,1711.3 L1366.4,1696.4" stroke="#231f20" stroke-width="1.2" fill="none" stroke-linejoin="round" stroke-linecap="round"/>
<path d="M1340.0,1736.0 C1343.3,1738.7 1350.8,1748.5 1360.0,1752.0 C1369.2,1755.5 1383.3,1758.2 1395.0,1757.0 C1406.7,1755.8 1420.8,1750.3 1430.0,1745.0 C1439.2,1739.7 1446.7,1728.3 1450.0,1725.0" stroke="#231f20" stroke-width="1.2" fill="none" stroke-linejoin="round" stroke-linecap="round"/>
<path d="M1345.0,1728.0 C1349.2,1730.3 1360.8,1739.2 1370.0,1742.0 C1379.2,1744.8 1390.3,1746.2 1400.0,1745.0 C1409.7,1743.8 1420.5,1740.0 1428.0,1735.0 C1435.5,1730.0 1442.2,1718.3 1445.0,1715.0" stroke="#231f20" stroke-width="1" fill="none" stroke-linejoin="round" stroke-linecap="round"/>
<path d="M1425.0,1700.0 C1427.5,1702.0 1436.5,1707.0 1440.0,1712.0 C1443.5,1717.0 1445.0,1727.0 1446.0,1730.0" stroke="#231f20" stroke-width="1.2" fill="none" stroke-linejoin="round" stroke-linecap="round"/>
<ellipse cx="1389.9" cy="1810.5" rx="38.3" ry="24.4" fill="#fff" stroke="#231f20" stroke-width="2.2"/>
<ellipse cx="1391" cy="1810.7" rx="28.4" ry="15" fill="none" stroke="#231f20" stroke-width="2"/>
<path d="M1357.0,1847.0 C1360.2,1846.2 1364.5,1846.3 1370.0,1846.0 C1375.5,1845.7 1383.3,1845.0 1390.0,1845.0 C1396.7,1845.0 1404.5,1846.0 1410.0,1846.0 C1415.5,1846.0 1419.7,1844.3 1423.0,1845.0 C1426.3,1845.7 1428.5,1847.8 1430.0,1850.0 C1431.5,1852.2 1430.9,1856.0 1432.0,1858.0 C1433.1,1860.0 1436.0,1860.0 1436.5,1862.0 C1437.0,1864.0 1435.9,1867.0 1435.0,1870.0 C1434.1,1873.0 1431.5,1876.7 1431.0,1880.0 C1430.5,1883.3 1433.0,1887.3 1432.0,1890.0 C1431.0,1892.7 1428.7,1894.5 1425.0,1896.0 C1421.3,1897.5 1415.8,1898.1 1410.0,1899.0 C1404.2,1899.9 1396.7,1901.1 1390.0,1901.3 C1383.3,1901.5 1375.3,1900.0 1370.0,1900.0 C1364.7,1900.0 1362.0,1901.7 1358.0,1901.0 C1354.0,1900.3 1348.5,1898.5 1346.0,1896.0 C1343.5,1893.5 1343.0,1889.5 1343.2,1886.0 C1343.4,1882.5 1346.5,1879.3 1347.0,1875.0 C1347.5,1870.7 1345.3,1864.0 1346.0,1860.0 C1346.7,1856.0 1349.2,1853.2 1351.0,1851.0 C1352.8,1848.8 1353.8,1847.8 1357.0,1847.0 Z" stroke="#231f20" stroke-width="2.2" fill="#fff" stroke-linejoin="round" stroke-linecap="round"/>
<ellipse cx="1390.5" cy="1874.3" rx="33.7" ry="19.1" fill="none" stroke="#231f20" stroke-width="2"/>
<ellipse cx="1390.5" cy="1873" rx="39" ry="23" fill="none" stroke="#231f20" stroke-width="1"/>
<ellipse cx="1357.3" cy="1852.5" rx="4" ry="2.5" fill="none" stroke="#231f20" stroke-width="1"/>
<ellipse cx="1415.4" cy="1849.8" rx="4" ry="2.5" fill="none" stroke="#231f20" stroke-width="1"/>
<ellipse cx="1351.1" cy="1885" rx="4" ry="2.5" fill="none" stroke="#231f20" stroke-width="1"/>
<ellipse cx="1422.4" cy="1889.4" rx="4" ry="2.5" fill="none" stroke="#231f20" stroke-width="1"/>
<rect x="1359.6" y="1871" width="6.0" height="23.700000000000045" fill="#fff" stroke="#231f20" stroke-width="1.3"/>
<rect x="1423.8" y="1834" width="6.0" height="24.59999999999991" fill="#fff" stroke="#231f20" stroke-width="1.3"/>
<line x1="1361.4" y1="1640" x2="1361.4" y2="1871" stroke="#231f20" stroke-width="1.2" stroke-dasharray="5,4"/>
<line x1="1426.4" y1="1603" x2="1426.4" y2="1834" stroke="#231f20" stroke-width="1.2" stroke-dasharray="5,4"/>
<path d="M1438.6,1824.8 C1436.1,1823.8 1438.3,1820.4 1439.6,1818.8 C1440.9,1817.2 1444.3,1815.3 1446.6,1815.3 C1448.9,1815.3 1452.3,1817.2 1453.6,1818.8 C1454.9,1820.4 1457.1,1823.8 1454.6,1824.8 C1452.1,1825.8 1441.1,1825.8 1438.6,1824.8 Z" stroke="#231f20" stroke-width="2" fill="#fff" stroke-linejoin="round" stroke-linecap="round"/>
<path d="M1444.1,1824.8 L1444.1,1858.9 L1446.6,1863.9 L1449.1,1858.9 L1449.1,1824.8" stroke="#231f20" stroke-width="1.6" fill="#fff" stroke-linejoin="round" stroke-linecap="round"/>
<line x1="1444.1" y1="1828" x2="1449.1" y2="1828" stroke="#231f20" stroke-width="0.9"/>
<line x1="1444.1" y1="1831" x2="1449.1" y2="1831" stroke="#231f20" stroke-width="0.9"/>
<line x1="1444.1" y1="1834" x2="1449.1" y2="1834" stroke="#231f20" stroke-width="0.9"/>
<line x1="1444.1" y1="1837" x2="1449.1" y2="1837" stroke="#231f20" stroke-width="0.9"/>
<line x1="1444.1" y1="1840" x2="1449.1" y2="1840" stroke="#231f20" stroke-width="0.9"/>
<line x1="1444.1" y1="1843" x2="1449.1" y2="1843" stroke="#231f20" stroke-width="0.9"/>
<line x1="1444.1" y1="1846" x2="1449.1" y2="1846" stroke="#231f20" stroke-width="0.9"/>
<line x1="1444.1" y1="1849" x2="1449.1" y2="1849" stroke="#231f20" stroke-width="0.9"/>
<line x1="1444.1" y1="1852" x2="1449.1" y2="1852" stroke="#231f20" stroke-width="0.9"/>
<line x1="1444.1" y1="1855" x2="1449.1" y2="1855" stroke="#231f20" stroke-width="0.9"/>
<path d="M1469.8,1815.1 C1467.3,1814.1 1469.5,1810.7 1470.8,1809.1 C1472.1,1807.5 1475.5,1805.6 1477.8,1805.6 C1480.1,1805.6 1483.5,1807.5 1484.8,1809.1 C1486.1,1810.7 1488.3,1814.1 1485.8,1815.1 C1483.3,1816.1 1472.3,1816.1 1469.8,1815.1 Z" stroke="#231f20" stroke-width="2" fill="#fff" stroke-linejoin="round" stroke-linecap="round"/>
<path d="M1475.3,1815.1 L1475.3,1848.4 L1477.8,1853.4 L1480.3,1848.4 L1480.3,1815.1" stroke="#231f20" stroke-width="1.6" fill="#fff" stroke-linejoin="round" stroke-linecap="round"/>
<line x1="1475.3" y1="1819" x2="1480.3" y2="1819" stroke="#231f20" stroke-width="0.9"/>
<line x1="1475.3" y1="1822" x2="1480.3" y2="1822" stroke="#231f20" stroke-width="0.9"/>
<line x1="1475.3" y1="1825" x2="1480.3" y2="1825" stroke="#231f20" stroke-width="0.9"/>
<line x1="1475.3" y1="1828" x2="1480.3" y2="1828" stroke="#231f20" stroke-width="0.9"/>
<line x1="1475.3" y1="1831" x2="1480.3" y2="1831" stroke="#231f20" stroke-width="0.9"/>
<line x1="1475.3" y1="1834" x2="1480.3" y2="1834" stroke="#231f20" stroke-width="0.9"/>
<line x1="1475.3" y1="1837" x2="1480.3" y2="1837" stroke="#231f20" stroke-width="0.9"/>
<line x1="1475.3" y1="1840" x2="1480.3" y2="1840" stroke="#231f20" stroke-width="0.9"/>
<line x1="1475.3" y1="1843" x2="1480.3" y2="1843" stroke="#231f20" stroke-width="0.9"/>
<line x1="1475.3" y1="1846" x2="1480.3" y2="1846" stroke="#231f20" stroke-width="0.9"/>
<line x1="1446.6" y1="1865" x2="1446.6" y2="1925" stroke="#231f20" stroke-width="1.2" stroke-dasharray="5,4"/>
<line x1="1477.8" y1="1855" x2="1477.8" y2="1886" stroke="#231f20" stroke-width="1.2" stroke-dasharray="5,4"/>
<path d="M1435.6,1924.6 L1445.3,1893.8 L1466.4,1881.1 L1481.3,1889.4 L1484.9,1903.5 L1489.3,1906.1 L1489.7,1924.6 L1448.8,1947.5 L1436.5,1941.3 L1435.6,1924.6" stroke="#231f20" stroke-width="2.2" fill="#fff" stroke-linejoin="round" stroke-linecap="round"/>
<path d="M1445.3,1893.8 L1458.5,1901.7 L1481.3,1889.4" stroke="#231f20" stroke-width="1.2" fill="none" stroke-linejoin="round" stroke-linecap="round"/>
<path d="M1458.5,1901.7 L1455.0,1924.6 L1448.8,1930.0" stroke="#231f20" stroke-width="1.2" fill="none" stroke-linejoin="round" stroke-linecap="round"/>
<path d="M1435.6,1924.6 L1447.0,1930.0 L1448.8,1947.5" stroke="#231f20" stroke-width="1.2" fill="none" stroke-linejoin="round" stroke-linecap="round"/>
<ellipse cx="1447" cy="1924.6" rx="3.5" ry="2" fill="none" stroke="#231f20" stroke-width="1"/>
<line x1="885.5" y1="1742.6" x2="885.5" y2="1805.3" stroke="#231f20" stroke-width="1.2"/>
<line x1="889.9" y1="1802.2" x2="1012.9" y2="1733.3" stroke="#231f20" stroke-width="1.3"/>
<line x1="885.5" y1="1805.3" x2="921.6" y2="1827.1" stroke="#231f20" stroke-width="1.3"/>
<line x1="1043.9" y1="1714.7" x2="1187.5" y2="1632.5" stroke="#231f20" stroke-width="1.3"/>
<ellipse cx="1045.2" cy="1794.2" rx="18" ry="10.9" fill="#fff" stroke="#231f20" stroke-width="2"/>
<ellipse cx="1045.2" cy="1790" rx="13" ry="6" fill="none" stroke="#231f20" stroke-width="1"/>
<rect x="1037.7" y="1764" width="16.200000000000045" height="26" fill="#fff" stroke="#231f20" stroke-width="1.4"/>
<rect x="1035.8" y="1763" width="19.200000000000045" height="7.599999999999909" fill="#fff" stroke="#231f20" stroke-width="1.2"/>
<path d="M1056.3,1740.0 C1057.6,1739.7 1062.2,1737.2 1064.0,1738.0 C1065.8,1738.8 1067.3,1742.7 1067.0,1745.0 C1066.7,1747.3 1063.8,1751.2 1062.0,1752.0 C1060.2,1752.8 1057.0,1750.3 1056.0,1750.0" stroke="#231f20" stroke-width="2" fill="#888" stroke-linejoin="round" stroke-linecap="round"/>
<path d="M1032.1,1744.0 L1032.1,1758.0 L1036.0,1764.3 L1054.0,1764.3 L1057.0,1758.0 L1057.0,1744.0" stroke="#231f20" stroke-width="1.8" fill="#fff" stroke-linejoin="round" stroke-linecap="round"/>
<ellipse cx="1044.6" cy="1743" rx="12.5" ry="5.5" fill="#fff" stroke="#231f20" stroke-width="1.8"/>
<ellipse cx="1044.6" cy="1742" rx="6" ry="3" fill="none" stroke="#231f20" stroke-width="1.2"/>
<ellipse cx="688.9" cy="1723.9" rx="21" ry="28" fill="#fff" stroke="#231f20" stroke-width="2.2" transform="rotate(30 688.9 1723.9)"/>
<ellipse cx="695" cy="1727" rx="15" ry="21" fill="none" stroke="#231f20" stroke-width="1" transform="rotate(30 695 1727)"/>
<path d="M701.3,1717.3 L735.2,1734.7" stroke="#231f20" stroke-width="2" fill="none" stroke-linejoin="round" stroke-linecap="round"/>
<path d="M698.0,1743.8 L721.2,1757.8" stroke="#231f20" stroke-width="2" fill="none" stroke-linejoin="round" stroke-linecap="round"/>
<path d="M701.3,1717.3 C699.8,1718.6 693.9,1721.7 692.0,1725.0 C690.1,1728.3 689.0,1733.9 690.0,1737.0 C691.0,1740.1 696.7,1742.7 698.0,1743.8" stroke="#231f20" stroke-width="1.2" fill="none" stroke-linejoin="round" stroke-linecap="round"/>
<path d="M713.0,1738.0 L725.0,1731.0 L735.0,1736.0 L730.0,1757.0 L720.0,1761.0 L713.0,1752.0 L713.0,1738.0" stroke="#231f20" stroke-width="1.3" fill="#fff" stroke-linejoin="round" stroke-linecap="round"/>
<path d="M725.0,1738.0 C728.3,1737.2 738.8,1733.0 745.0,1733.0 C751.2,1733.0 758.0,1734.4 762.0,1738.0 C766.0,1741.6 769.2,1748.3 769.2,1754.5 C769.2,1760.7 765.2,1770.7 762.0,1775.0 C758.8,1779.3 754.6,1780.4 750.1,1780.2 C745.6,1780.0 739.7,1777.0 735.0,1774.0 C730.3,1771.0 724.3,1766.3 722.0,1762.0 C719.7,1757.7 720.5,1752.0 721.0,1748.0 C721.5,1744.0 724.3,1739.7 725.0,1738.0 C725.7,1736.3 721.7,1738.8 725.0,1738.0 Z" stroke="#231f20" stroke-width="2" fill="#fff" stroke-linejoin="round" stroke-linecap="round"/>
<path d="M751.8,1733.0 C754.0,1732.5 761.5,1729.2 765.0,1730.0 C768.5,1730.8 771.2,1734.7 772.5,1738.0 C773.8,1741.3 773.8,1747.0 773.0,1750.0 C772.2,1753.0 768.8,1755.0 768.0,1756.0" stroke="#231f20" stroke-width="2" fill="none" stroke-linejoin="round" stroke-linecap="round"/>
<ellipse cx="759.3" cy="1767" rx="9" ry="12" fill="none" stroke="#231f20" stroke-width="1.6" transform="rotate(25 759.3 1767)"/>
<ellipse cx="760" cy="1767" rx="5" ry="7" fill="none" stroke="#231f20" stroke-width="1.3" transform="rotate(25 760 1767)"/>
<circle cx="671" cy="1072" r="97" fill="#fff" stroke="#231f20" stroke-width="2.2"/>
<path d="M570.6,1171.2 L662.0,1173.8" stroke="#231f20" stroke-width="2" fill="none" stroke-linejoin="round" stroke-linecap="round"/>
<path d="M681.4,1173.8 L770.3,1173.8" stroke="#231f20" stroke-width="2" fill="none" stroke-linejoin="round" stroke-linecap="round"/>
<path d="M770.3,1173.8 C770.1,1174.8 770.9,1176.5 769.4,1180.0 C767.9,1183.5 763.0,1190.0 761.0,1195.0 C759.0,1200.0 758.3,1203.2 757.1,1209.9 C755.9,1216.6 754.6,1226.8 754.0,1235.0 C753.4,1243.2 753.7,1253.7 753.6,1259.2 C753.5,1264.7 753.6,1266.5 753.6,1268.0" stroke="#231f20" stroke-width="2" fill="none" stroke-linejoin="round" stroke-linecap="round"/>
<path d="M753.6,1268.0 L577.6,1268.0 L579.0,1240.0 L584.6,1224.0 L575.0,1190.0 L570.6,1171.2" stroke="#231f20" stroke-width="2" fill="none" stroke-linejoin="round" stroke-linecap="round"/>
<path d="M573.0,1178.0 L660.0,1180.0" stroke="#231f20" stroke-width="1" fill="none" stroke-linejoin="round" stroke-linecap="round"/>
<path d="M593.0,1182.0 L600.0,1190.0 L640.0,1195.0 L660.0,1205.0" stroke="#231f20" stroke-width="1" fill="none" stroke-linejoin="round" stroke-linecap="round"/>
<path d="M585.0,1210.0 C592.5,1210.5 618.8,1210.5 630.0,1213.0 C641.2,1215.5 645.7,1220.5 652.0,1225.0 C658.3,1229.5 663.5,1236.7 668.0,1240.0 C672.5,1243.3 677.0,1244.2 678.8,1245.0" stroke="#231f20" stroke-width="1" fill="none" stroke-linejoin="round" stroke-linecap="round"/>
<path d="M600.0,1250.0 L668.0,1250.0" stroke="#231f20" stroke-width="1" fill="none" stroke-linejoin="round" stroke-linecap="round"/>
<line x1="678.8" y1="1173.8" x2="678.8" y2="1257" stroke="#231f20" stroke-width="1.2"/>
<rect x="602.2" y="1178.2" width="19.399999999999977" height="6.2000000000000455" fill="#231f20"/>
<rect x="648" y="1178.2" width="13.200000000000045" height="6.2000000000000455" fill="#231f20"/>
<rect x="626.9" y="1238" width="20.200000000000045" height="6.2000000000000455" fill="#231f20"/>
<polygon points="649.7,1221 670,1220.4 676.1,1228 667,1236 660,1234.5" fill="#888" stroke="#231f20" stroke-width="1" stroke-linejoin="miter"/>
<polygon points="661.2,1167 663,1218.7 681.4,1167" fill="#fff" stroke="none" stroke-width="0" stroke-linejoin="miter"/>
<path d="M661.2,1167.6 L663.0,1218.7 L681.4,1167.6" stroke="#231f20" stroke-width="2.2" fill="none" stroke-linejoin="round" stroke-linecap="round"/>
<path d="M623.4,1030.4 L667.3,1086.7" stroke="#231f20" stroke-width="1.6" fill="none" stroke-linejoin="round" stroke-linecap="round"/>
<path d="M718.0,1030.4 L676.0,1086.7" stroke="#231f20" stroke-width="1.6" fill="none" stroke-linejoin="round" stroke-linecap="round"/>
<path d="M602.0,1048.0 L624.0,1054.0 L640.0,1062.0 L650.0,1063.0" stroke="#231f20" stroke-width="1.6" fill="none" stroke-linejoin="round" stroke-linecap="round"/>
<path d="M740.0,1048.0 L718.0,1054.0 L700.0,1062.0 L692.0,1063.0" stroke="#231f20" stroke-width="1.6" fill="none" stroke-linejoin="round" stroke-linecap="round"/>
<path d="M605.0,1075.0 L640.0,1057.0" stroke="#231f20" stroke-width="1.6" fill="none" stroke-linejoin="round" stroke-linecap="round"/>
<path d="M737.0,1075.0 L702.0,1057.0" stroke="#231f20" stroke-width="1.6" fill="none" stroke-linejoin="round" stroke-linecap="round"/>
<polygon points="630.4,1046.2 688.5,1046.2 678,1060 680,1088 663.8,1090.2 645,1068" fill="#ddd" stroke="#231f20" stroke-width="1.3" stroke-linejoin="miter"/>
<g transform="rotate(45 670.5 1065)"><rect x="631" y="1059.5" width="79" height="11" rx="5.5" fill="#bbb" fill-opacity="0.85" stroke="#231f20" stroke-width="1"/></g>
<g transform="rotate(-45 670.5 1065)"><rect x="631" y="1059.5" width="79" height="11" rx="5.5" fill="#bbb" fill-opacity="0.85" stroke="#231f20" stroke-width="1"/></g>
<path d="M655.0,1105.0 L662.0,1090.0" stroke="#231f20" stroke-width="1.3" fill="none" stroke-linejoin="round" stroke-linecap="round"/>
<polygon points="662,1090 660.8823741273392,1098.30667878329 656.3514584273629,1096.1922514566345" fill="#231f20" stroke="none" stroke-width="0" stroke-linejoin="miter"/>
<g transform="rotate(31 1522 1483)"><path d="M1502,1483 L1514,1480 L1538,1480 L1544,1475 L1544,1491 L1538,1486 L1514,1486 Z" fill="#fff" stroke="#231f20" stroke-width="1.5"/><ellipse cx="1545" cy="1483" rx="5" ry="9" fill="#fff" stroke="#231f20" stroke-width="1.6"/><path d="M1541,1479 L1549,1487 M1549,1479 L1541,1487" stroke="#231f20" stroke-width="0.9"/><line x1="1512" y1="1479.5" x2="1515" y2="1486.5" stroke="#231f20" stroke-width="1"/><line x1="1515" y1="1479.5" x2="1518" y2="1486.5" stroke="#231f20" stroke-width="1"/><line x1="1518" y1="1479.5" x2="1521" y2="1486.5" stroke="#231f20" stroke-width="1"/><line x1="1521" y1="1479.5" x2="1524" y2="1486.5" stroke="#231f20" stroke-width="1"/><line x1="1524" y1="1479.5" x2="1527" y2="1486.5" stroke="#231f20" stroke-width="1"/><line x1="1527" y1="1479.5" x2="1530" y2="1486.5" stroke="#231f20" stroke-width="1"/><line x1="1530" y1="1479.5" x2="1533" y2="1486.5" stroke="#231f20" stroke-width="1"/><line x1="1533" y1="1479.5" x2="1536" y2="1486.5" stroke="#231f20" stroke-width="1"/></g>
<g transform="rotate(31 1565 1507)"><rect x="1553" y="1503" width="9" height="7" fill="#fff" stroke="#231f20" stroke-width="1.4"/><ellipse cx="1565" cy="1507" rx="5.5" ry="10.5" fill="#fff" stroke="#231f20" stroke-width="1.6"/><ellipse cx="1569" cy="1507" rx="6.5" ry="10.5" fill="#fff" stroke="#231f20" stroke-width="1.6"/></g>
<rect x="422" y="59" width="1636" height="51" fill="#231f20"/>
<rect x="1131" y="126" width="57" height="27" fill="#4a4849"/>
<rect x="1272.0" y="127.0" width="56" height="25" fill="none" stroke="#231f20" stroke-width="2"/>
<rect x="712" y="182" width="968" height="411" fill="none" stroke="#231f20" stroke-width="2" stroke-dasharray="6,4"/>
<rect x="507" y="203" width="40" height="40" fill="#231f20"/>
<rect x="609" y="203" width="40" height="40" fill="#231f20"/>
<rect x="787" y="203" width="40" height="40" fill="#231f20"/>
<rect x="907" y="203" width="40" height="40" fill="#231f20"/>
<rect x="1009" y="203" width="40" height="40" fill="#231f20"/>
<rect x="1111" y="203" width="40" height="40" fill="#231f20"/>
<rect x="1230" y="203" width="40" height="40" fill="#231f20"/>
<rect x="1368" y="203" width="40" height="40" fill="#231f20"/>
<rect x="1488" y="203" width="40" height="40" fill="#231f20"/>
<rect x="1609" y="203" width="40" height="40" fill="#231f20"/>
<rect x="1744" y="203" width="40" height="40" fill="#231f20"/>
<rect x="508.2" y="255.2" width="37.6" height="311.6" fill="none" stroke="#231f20" stroke-width="2.4"/>
<rect x="610.2" y="255.2" width="38.6" height="311.6" fill="none" stroke="#231f20" stroke-width="2.4"/>
<rect x="1746.2" y="255.2" width="35.6" height="311.6" fill="none" stroke="#231f20" stroke-width="2.4"/>
<rect x="771" y="255" width="74" height="313" fill="#4a4849"/>
<rect x="908" y="255" width="38" height="313" fill="#4a4849"/>
<rect x="1010" y="255" width="38" height="313" fill="#4a4849"/>
<rect x="1112" y="255" width="38" height="313" fill="#4a4849"/>
<rect x="1214" y="255" width="74" height="313" fill="#4a4849"/>
<rect x="1351" y="255" width="74" height="313" fill="#4a4849"/>
<rect x="1489" y="255" width="38" height="313" fill="#4a4849"/>
<rect x="1591" y="255" width="74" height="313" fill="#4a4849"/>
<rect x="1847" y="198" width="74" height="365" fill="#4a4849"/>
<rect x="1984" y="198" width="39" height="365" fill="#4a4849"/>
<polygon points="563.0,379.0 577.0,379.0 577.0,368.5 594.0,388.0 577.0,407.5 577.0,397.0 563.0,397.0" fill="#231f20" stroke="none" stroke-width="0" stroke-linejoin="miter"/>
<polygon points="665.0,379.0 679.0,379.0 679.0,368.5 696.0,388.0 679.0,407.5 679.0,397.0 665.0,397.0" fill="#231f20" stroke="none" stroke-width="0" stroke-linejoin="miter"/>
<polygon points="861.0,379.0 875.0,379.0 875.0,368.5 892.0,388.0 875.0,407.5 875.0,397.0 861.0,397.0" fill="#231f20" stroke="none" stroke-width="0" stroke-linejoin="miter"/>
<polygon points="963.0,379.0 977.0,379.0 977.0,368.5 994.0,388.0 977.0,407.5 977.0,397.0 963.0,397.0" fill="#231f20" stroke="none" stroke-width="0" stroke-linejoin="miter"/>
<polygon points="1065.0,379.0 1079.0,379.0 1079.0,368.5 1096.0,388.0 1079.0,407.5 1079.0,397.0 1065.0,397.0" fill="#231f20" stroke="none" stroke-width="0" stroke-linejoin="miter"/>
<polygon points="1166.0,379.0 1180.0,379.0 1180.0,368.5 1197.0,388.0 1180.0,407.5 1180.0,397.0 1166.0,397.0" fill="#231f20" stroke="none" stroke-width="0" stroke-linejoin="miter"/>
<polygon points="1304.0,379.0 1318.0,379.0 1318.0,368.5 1335.0,388.0 1318.0,407.5 1318.0,397.0 1304.0,397.0" fill="#231f20" stroke="none" stroke-width="0" stroke-linejoin="miter"/>
<polygon points="1441.0,379.0 1455.0,379.0 1455.0,368.5 1472.0,388.0 1455.0,407.5 1455.0,397.0 1441.0,397.0" fill="#231f20" stroke="none" stroke-width="0" stroke-linejoin="miter"/>
<polygon points="1544.0,379.0 1558.0,379.0 1558.0,368.5 1575.0,388.0 1558.0,407.5 1558.0,397.0 1544.0,397.0" fill="#231f20" stroke="none" stroke-width="0" stroke-linejoin="miter"/>
<polygon points="1697.0,379.0 1711.0,379.0 1711.0,368.5 1728.0,388.0 1711.0,407.5 1711.0,397.0 1697.0,397.0" fill="#231f20" stroke="none" stroke-width="0" stroke-linejoin="miter"/>
<polygon points="1800.0,379.0 1814.0,379.0 1814.0,368.5 1831.0,388.0 1814.0,407.5 1814.0,397.0 1800.0,397.0" fill="#231f20" stroke="none" stroke-width="0" stroke-linejoin="miter"/>
<polygon points="1937.0,379.0 1951.0,379.0 1951.0,368.5 1968.0,388.0 1951.0,407.5 1951.0,397.0 1937.0,397.0" fill="#231f20" stroke="none" stroke-width="0" stroke-linejoin="miter"/>
<rect x="422" y="663" width="1636" height="51" fill="#231f20"/>
<rect x="464.7" y="751.7" width="411.6" height="557.6" fill="none" stroke="#231f20" stroke-width="2.4"/>
<circle cx="671" cy="798.5" r="28.5" fill="none" stroke="#231f20" stroke-width="4"/>
<line x1="651" y1="778.5" x2="691" y2="818.5" stroke="#231f20" stroke-width="4"/>
<polyline points="1154.8,899.8 977.2,899.8 977.2,765.2 1405.8,765.2 1405.8,899.8 1217.7,899.8" fill="none" stroke="#231f20" stroke-width="2.4" stroke-linejoin="miter"/>
<line x1="1173" y1="899.8" x2="1189.6" y2="899.8" stroke="#231f20" stroke-width="2.4"/>
<polygon points="1315,868.4843068875327 1325.3870967741937,868.4843068875327 1325.3870967741937,864.5 1338,874.5 1325.3870967741937,884.5 1325.3870967741937,880.5156931124673 1315,880.5156931124673" fill="#231f20" stroke="none" stroke-width="0" stroke-linejoin="miter"/>
<rect x="1340" y="861" width="28" height="28" fill="#231f20"/>
<polygon points="464,1372 883.5,1372 883.5,1402 937,1412 883.5,1422.5 883.5,1451.5 464,1451.5" fill="#fff" stroke="#231f20" stroke-width="2.4" stroke-linejoin="miter"/>
<rect x="481" y="1860" width="419" height="125" fill="#625f60"/>
<polyline points="900,2011 482,2011 482,2069 1091,2069 1091,2011 1044.5,2011" fill="none" stroke="#231f20" stroke-width="2.4" stroke-linejoin="miter"/>
<line x1="945" y1="2011" x2="995.5" y2="2011" stroke="#231f20" stroke-width="2.4"/>
<polygon points="992,2035.9843068875327 1002.3870967741935,2035.9843068875327 1002.3870967741935,2032.0 1015,2042 1002.3870967741935,2052.0 1002.3870967741935,2048.0156931124675 992,2048.0156931124675" fill="#231f20" stroke="none" stroke-width="0" stroke-linejoin="miter"/>
<rect x="1017" y="2029" width="27" height="27" fill="#231f20"/>
<line x1="705.8" y1="2137.3" x2="1250.7" y2="2137.3" stroke="#231f20" stroke-width="1.3"/>
<polyline points="1658,1548 1658,1497 2053,1497 2053,1599.5 1658,1599.5 1658,1586" fill="none" stroke="#231f20" stroke-width="2.4" stroke-linejoin="miter"/>
<polygon points="1943,1568.9843068875327 1953.3870967741937,1568.9843068875327 1953.3870967741937,1565.0 1966,1575 1953.3870967741937,1585.0 1953.3870967741937,1581.0156931124673 1943,1581.0156931124673" fill="#231f20" stroke="none" stroke-width="0" stroke-linejoin="miter"/>
<rect x="1969.5" y="1561" width="27.0" height="27" fill="#231f20"/>
<rect x="2000.5" y="1561" width="27.0" height="27" fill="#231f20"/>
<polyline points="1640,1713 1640,1683 2053,1683 2053,1786 1640,1786 1640,1739" fill="none" stroke="#231f20" stroke-width="2.4" stroke-linejoin="miter"/>
<polygon points="1974,1754.4843068875327 1984.3870967741937,1754.4843068875327 1984.3870967741937,1750.5 1997,1760.5 1984.3870967741937,1770.5 1984.3870967741937,1766.5156931124673 1974,1766.5156931124673" fill="#231f20" stroke="none" stroke-width="0" stroke-linejoin="miter"/>
<rect x="1998" y="1746" width="29" height="29" fill="#231f20"/>
<polyline points="1539,1994 1539,1972 2053,1972 2053,2050 1539,2050 1539,2031" fill="none" stroke="#231f20" stroke-width="2.4" stroke-linejoin="miter"/>
<polygon points="1974,2016.9843068875327 1984.3870967741937,2016.9843068875327 1984.3870967741937,2013.0 1997,2023 1984.3870967741937,2033.0 1984.3870967741937,2029.0156931124673 1974,2029.0156931124673" fill="#231f20" stroke="none" stroke-width="0" stroke-linejoin="miter"/>
<rect x="1999" y="2009.5" width="28" height="28.0" fill="#231f20"/>
<polyline points="635,1668.5 607,1668.5 607,1834 842,1834 842,1668.5 814,1668.5" fill="none" stroke="#231f20" stroke-width="1.6" stroke-linejoin="miter"/>
<polygon points="2036.8,2429.3997384481254 2045.6064516129031,2429.3997384481254 2045.6064516129031,2425.0 2056.3,2434.5 2045.6064516129031,2444.0 2045.6064516129031,2439.6002615518746 2036.8,2439.6002615518746" fill="#231f20" stroke="none" stroke-width="0" stroke-linejoin="miter"/>
<line x1="883" y1="1141" x2="1067" y2="1141" stroke="#231f20" stroke-width="1.3"/>
<line x1="903" y1="1218" x2="1063.7" y2="1218" stroke="#231f20" stroke-width="1.3"/>
<line x1="939.5" y1="1258.5" x2="1052" y2="1258.5" stroke="#231f20" stroke-width="1.3"/>
<line x1="1034" y1="1405" x2="1161.4" y2="1405" stroke="#231f20" stroke-width="1.3"/>
<line x1="1049" y1="1473.5" x2="1166" y2="1473.5" stroke="#231f20" stroke-width="1.3"/>
<line x1="1521" y1="1021.6" x2="1711" y2="1021.6" stroke="#231f20" stroke-width="1.3"/>
<line x1="1559" y1="1258" x2="1695" y2="1258" stroke="#231f20" stroke-width="1.3"/>
<line x1="1583" y1="1305" x2="1635" y2="1305" stroke="#231f20" stroke-width="1.3"/>
<line x1="1605" y1="1411" x2="1847" y2="1411" stroke="#231f20" stroke-width="1.3"/>
<line x1="1637" y1="1452" x2="1801" y2="1452" stroke="#231f20" stroke-width="1.3"/>
<line x1="1352" y1="1511" x2="1425" y2="1511" stroke="#231f20" stroke-width="1.3"/>
<line x1="1402" y1="1551" x2="1476" y2="1551" stroke="#231f20" stroke-width="1.3"/>
<line x1="1075" y1="1604" x2="1173.5" y2="1604" stroke="#231f20" stroke-width="1.3"/>
<line x1="1517" y1="1657.6" x2="1705" y2="1657.6" stroke="#231f20" stroke-width="1.3"/>
<line x1="1475" y1="1753" x2="1573" y2="1753" stroke="#231f20" stroke-width="1.3"/>
<line x1="1232" y1="1900" x2="1310" y2="1900" stroke="#231f20" stroke-width="1.3"/>
<line x1="1347" y1="1987" x2="1422" y2="1987" stroke="#231f20" stroke-width="1.3"/>
<line x1="1506" y1="1856" x2="1682" y2="1856" stroke="#231f20" stroke-width="1.3"/>
<line x1="717" y1="1528" x2="905" y2="1528" stroke="#231f20" stroke-width="1.3"/>
<line x1="871" y1="1708" x2="1019" y2="1708" stroke="#231f20" stroke-width="1.3"/>
<line x1="637" y1="1817" x2="712" y2="1817" stroke="#231f20" stroke-width="1.3"/>
</svg>
<div class="t j hd" style="left:462.3px;top:62.7px;font-size:42.61px;width:170.4px;font-weight:bold;color:#fff;">施工手順</div>
<div class="t j " style="left:440.1px;top:127.4px;font-size:21.6px;width:650.7px;">この施工手順に従って便器・タンクを正しく取り付けてください。</div>
<div class="t " style="left:1106.1px;top:127.4px;font-size:21.6px;">（</div>
<div class="t j " style="left:1192.3px;top:127.4px;font-size:18.68px;width:74.5px;">は本紙、</div>
<div class="t j " style="left:1332.1px;top:127.4px;font-size:21.43px;width:385.7px;">はタンクの施工説明書を参照ください）</div>
<div class="nb" style="left:507px;top:203px;width:40px;height:40px;line-height:40px;font-size:30px;letter-spacing:0">1</div>
<div class="nb" style="left:609px;top:203px;width:40px;height:40px;line-height:40px;font-size:30px;letter-spacing:0">2</div>
<div class="nb" style="left:787px;top:203px;width:40px;height:40px;line-height:40px;font-size:30px;letter-spacing:0">3</div>
<div class="nb" style="left:907px;top:203px;width:40px;height:40px;line-height:40px;font-size:30px;letter-spacing:0">4</div>
<div class="nb" style="left:1009px;top:203px;width:40px;height:40px;line-height:40px;font-size:30px;letter-spacing:0">5</div>
<div class="nb" style="left:1111px;top:203px;width:40px;height:40px;line-height:40px;font-size:30px;letter-spacing:0">6</div>
<div class="nb" style="left:1230px;top:203px;width:40px;height:40px;line-height:40px;font-size:30px;letter-spacing:0">7</div>
<div class="nb" style="left:1368px;top:203px;width:40px;height:40px;line-height:40px;font-size:30px;letter-spacing:0">8</div>
<div class="nb" style="left:1488px;top:203px;width:40px;height:40px;line-height:40px;font-size:30px;letter-spacing:0">9</div>
<div class="nb" style="left:1609px;top:203px;width:40px;height:40px;line-height:40px;font-size:30px;letter-spacing:-2px">10</div>
<div class="nb" style="left:1744px;top:203px;width:40px;height:40px;line-height:40px;font-size:30px;letter-spacing:-2px">11</div>
<div class="v" style="left:511.4px;top:262.0px;width:31.2px;font-size:26px;line-height:25.45px;">既設便器の取り外し</div>
<div class="v" style="left:613.4px;top:264.0px;width:31.2px;font-size:26px;line-height:25.06px;">止水栓の取り付け</div>
<div class="v" style="left:727.1px;top:285.6px;width:28.8px;font-size:24px;line-height:22.59px;font-weight:bold;">︻便器の取り付け︼</div>
<div class="v" style="left:807.4px;top:263.0px;width:31.2px;font-size:26px;line-height:24.83px;color:#fff;">位置決めシ︱トに便器取付</div>
<div class="v" style="left:776.4px;top:264.0px;width:31.2px;font-size:26px;line-height:24.64px;color:#fff;">穴位置をけがく</div>
<div class="v" style="left:911.4px;top:263.0px;width:31.2px;font-size:26px;line-height:24.83px;color:#fff;">床フランジ接続部の仮置き</div>
<div class="v" style="left:1013.1px;top:264.0px;width:31.2px;font-size:26px;line-height:25.34px;color:#fff;">横引管の切断</div>
<div class="v" style="left:1115.4px;top:263.8px;width:31.2px;font-size:26px;line-height:22.93px;color:#fff;">排水アジャスタ︱の組み立て</div>
<div class="v" style="left:1250.9px;top:263.7px;width:31.2px;font-size:26px;line-height:24.77px;color:#fff;">位置決めシ︱トで取付穴位</div>
<div class="v" style="left:1219.9px;top:263.7px;width:31.2px;font-size:26px;line-height:24.65px;color:#fff;">置をけがく</div>
<div class="v" style="left:1387.4px;top:263.7px;width:31.2px;font-size:26px;line-height:24.77px;color:#fff;">固定片・排水アジャスタ︱</div>
<div class="v" style="left:1356.4px;top:263.7px;width:31.2px;font-size:26px;line-height:24.65px;color:#fff;">の取り付け</div>
<div class="v" style="left:1491.4px;top:263.7px;width:31.2px;font-size:26px;line-height:25.57px;color:#fff;">便器の固定</div>
<div class="v" style="left:1627.8px;top:262.0px;width:31.2px;font-size:26px;line-height:25.61px;color:#fff;">化粧キャップ付きねじの</div>
<div class="v" style="left:1597.4px;top:262.0px;width:31.2px;font-size:26px;line-height:25.46px;color:#fff;">取り付け</div>
<div class="v" style="left:1748.1px;top:261.0px;width:31.2px;font-size:26px;line-height:25.63px;">タンクの取り付け</div>
<div class="v" style="left:1884.0px;top:205.0px;width:31.2px;font-size:26px;line-height:25.64px;color:#fff;">サイドカバ︱の取り付け／</div>
<div class="v" style="left:1853.0px;top:205.0px;width:31.2px;font-size:26px;line-height:25.51px;color:#fff;">取り外し</div>
<div class="v" style="left:1988.0px;top:204.0px;width:31.2px;font-size:26px;line-height:25.76px;color:#fff;">取り付け後の確認</div>
<div class="t j hd" style="left:461.3px;top:667.7px;font-size:42.6px;width:596.4px;font-weight:bold;color:#fff;">各部のなまえと施工のポイント</div>
<div class="t j " style="left:505.2px;top:839.9px;font-size:21px;width:326.7px;">結露防止カバーは取り外さないで</div>
<div class="t j " style="left:505.2px;top:865.4px;font-size:20.54px;width:102.6px;">ください！</div>
<div class="t j " style="left:505.2px;top:891.0px;font-size:21px;width:338.7px;">再度取り付けることができません。</div>
<div class="t j " style="left:505.2px;top:915.0px;font-size:21px;width:326.7px;">※取り外すと結露水で床をぬらす</div>
<div class="t j " style="left:527.8px;top:939.0px;font-size:20.79px;width:187.1px;">おそれがあります。</div>
<div class="t j " style="left:607.7px;top:1005.0px;font-size:20.86px;width:125.2px;">取り外さない</div>
<div class="t j " style="left:603.9px;top:1110.0px;font-size:18.67px;width:130.5px;">結露防止カバー</div>
<div class="t j " style="left:994.2px;top:775.4px;font-size:19.4px;width:368.6px;">・便器後ろの木ねじ固定を先に行うこと！</div>
<div class="t j " style="left:994.2px;top:803.0px;font-size:19.11px;width:305.5px;">・締め過ぎて便器を割らないこと！</div>
<div class="t j " style="left:994.2px;top:830.4px;font-size:19.32px;width:347.5px;">・最後の締め増しは手締めで行うこと！</div>
<div class="t " style="left:1290.2px;top:863.4px;font-size:21px;">（</div>
<div class="nb" style="left:1340px;top:861px;width:28px;height:28px;line-height:28px;font-size:21px;letter-spacing:0">9</div>
<div class="t " style="left:1375.2px;top:863.4px;font-size:21px;">）</div>
<div class="t j " style="left:477.2px;top:1392.9px;font-size:20.83px;width:395.7px;">サイドカバーの取り付けはウォシュレット</div>
<div class="t j " style="left:477.2px;top:1420.4px;font-size:20.58px;width:329.2px;">本体を取り付けたあとに行うこと！</div>
<div class="t j " style="left:504.2px;top:1870.4px;font-size:20.7px;width:372.7px;font-weight:bold;color:#fff;">※タンク同梱のフィルター付き止水栓を</div>
<div class="t j " style="left:523.8px;top:1895.4px;font-size:20.17px;width:242.0px;font-weight:bold;color:#fff;">必ず取り付けてください。</div>
<div class="t j " style="left:523.8px;top:1920.4px;font-size:20.77px;width:353.1px;font-weight:bold;color:#fff;">ゴミかみによる止水、吐水不良になる</div>
<div class="t j " style="left:523.8px;top:1945.4px;font-size:19.96px;width:179.6px;font-weight:bold;color:#fff;">おそれがあります。</div>
<div class="t j " style="left:503.7px;top:2030.4px;font-size:20.92px;width:481.2px;">床面に対してガタツキがないように接着すること！</div>
<div class="t " style="left:980.2px;top:2030.4px;font-size:21px;">(</div>
<div class="nb" style="left:1017px;top:2029px;width:27px;height:27px;line-height:27px;font-size:21px;letter-spacing:0">8</div>
<div class="t " style="left:1047.2px;top:2030.4px;font-size:21px;">）</div>
<div class="t j " style="left:709.2px;top:2113.9px;font-size:20.5px;width:145.2px;">※既設フランジ</div>
<div class="t" style="left:708.7px;top:2137.6px;font-size:22.44px;-webkit-text-stroke-width:0.3px">T53WR75,T53WR100,T53PR75,T53PR100,HP430</div>
<div class="t " style="left:1220.9px;top:2140.0px;font-size:21px;">系</div>
<div class="t j " style="left:1671.2px;top:1510.4px;font-size:20.09px;width:361.6px;">・横引管切断は真っすぐ切断すること！</div>
<div class="t j " style="left:1671.2px;top:1536.4px;font-size:20.1px;width:341.6px;">・接着剤塗布位置を間違えないこと！</div>
<div class="t " style="left:1915.2px;top:1563.4px;font-size:21px;">（</div>
<div class="nb" style="left:1969.5px;top:1561px;width:27px;height:27px;line-height:27px;font-size:21px;letter-spacing:0">5</div>
<div class="nb" style="left:2000.5px;top:1561px;width:27px;height:27px;line-height:27px;font-size:21px;letter-spacing:0">6</div>
<div class="t " style="left:2032.2px;top:1563.4px;font-size:21px;">）</div>
<div class="t j " style="left:1653.2px;top:1695.4px;font-size:20.95px;width:349.2px;">Pシールの種類およびセットの方法は</div>
<div class="t j " style="left:1653.2px;top:1721.4px;font-size:20.35px;width:386.6px;">既設フランジの種類によって異なります。</div>
<div class="t " style="left:1951.2px;top:1748.4px;font-size:21px;">（</div>
<div class="nb" style="left:1998px;top:1746px;width:29px;height:29px;line-height:29px;font-size:22px;letter-spacing:0">8</div>
<div class="t " style="left:2032.2px;top:1748.4px;font-size:21px;">）</div>
<div class="t j " style="left:1549.2px;top:1984.4px;font-size:20.57px;width:493.6px;">位置決めシートで固定片の位置をきちんと出すこと！</div>
<div class="t " style="left:1951.2px;top:2011.4px;font-size:21px;">（</div>
<div class="nb" style="left:1999px;top:2009.5px;width:28px;height:28px;line-height:28px;font-size:22px;letter-spacing:0">7</div>
<div class="t " style="left:2032.2px;top:2011.4px;font-size:21px;">）</div>
<div class="t j " style="left:645.2px;top:1658.4px;font-size:20.21px;width:161.6px;">＜壁給水の場合＞</div>
<div class="t j " style="left:642.2px;top:1796.4px;font-size:20px;width:63.6px;">止水栓</div>
<div class="t j " style="left:1915.8px;top:2425.4px;font-size:18.68px;width:112.0px;">裏面につづく</div>
<div class="t j " style="left:884.2px;top:1116.4px;font-size:21px;width:185.4px;">木ねじ（φ4.8×63）</div>
<div class="t j " style="left:904.0px;top:1192.5px;font-size:17.99px;width:161.7px;">化粧キャップ（後）</div>
<div class="t j " style="left:940.2px;top:1235.4px;font-size:20px;width:104.4px;">ワッシャー</div>
<div class="t j " style="left:1034.8px;top:1382.9px;font-size:18.75px;width:112.4px;">面ファスナー</div>
<div class="t j " style="left:1050.1px;top:1447.3px;font-size:22.77px;width:113.8px;">便器接続部</div>
<div class="t j " style="left:1523.2px;top:995.4px;font-size:20.87px;width:187.7px;">サイドカバー（右）</div>
<div class="t j " style="left:1567.2px;top:1236.4px;font-size:20px;width:125.6px;">面ファスナー</div>
<div class="t j " style="left:1591.2px;top:1281.4px;font-size:20.84px;width:41.7px;">便器</div>
<div class="t j " style="left:1607.1px;top:1385.3px;font-size:23px;width:239.8px;">皿木ねじ（φ5.8×56）</div>
<div class="t j " style="left:1638.3px;top:1428.5px;font-size:18.07px;width:162.4px;">化粧キャップ（前）</div>
<div class="t j " style="left:1356.2px;top:1489.4px;font-size:20px;width:61.6px;">取付穴</div>
<div class="t j " style="left:1404.1px;top:1526.3px;font-size:22.95px;width:68.8px;">横引管</div>
<div class="t j " style="left:1074.2px;top:1552.4px;font-size:19.53px;width:58.6px;">木ねじ</div>
<div class="t j " style="left:1072.2px;top:1577.4px;font-size:19.51px;width:95.6px;">（φ5×50）</div>
<div class="t j " style="left:1518.1px;top:1628.3px;font-size:23px;width:184.8px;">床フランジ接続部</div>
<div class="t j " style="left:1483.1px;top:1729.3px;font-size:23px;width:84.8px;">Pシール</div>
<div class="t j " style="left:1233.2px;top:1877.4px;font-size:20px;width:76.6px;">Tボルト</div>
<div class="t j " style="left:1353.2px;top:1964.4px;font-size:20px;width:64.6px;">固定片</div>
<div class="t j " style="left:1508.2px;top:1831.4px;font-size:21px;width:172.7px;">木ねじ（φ5×50）</div>
<div class="t j " style="left:717.2px;top:1498.4px;font-size:20.98px;width:188.7px;">サイドカバー（左）</div>
<div class="t j " style="left:873.3px;top:1686.5px;font-size:18.07px;width:144.4px;">止水栓（床給水）</div>
</body></html>
